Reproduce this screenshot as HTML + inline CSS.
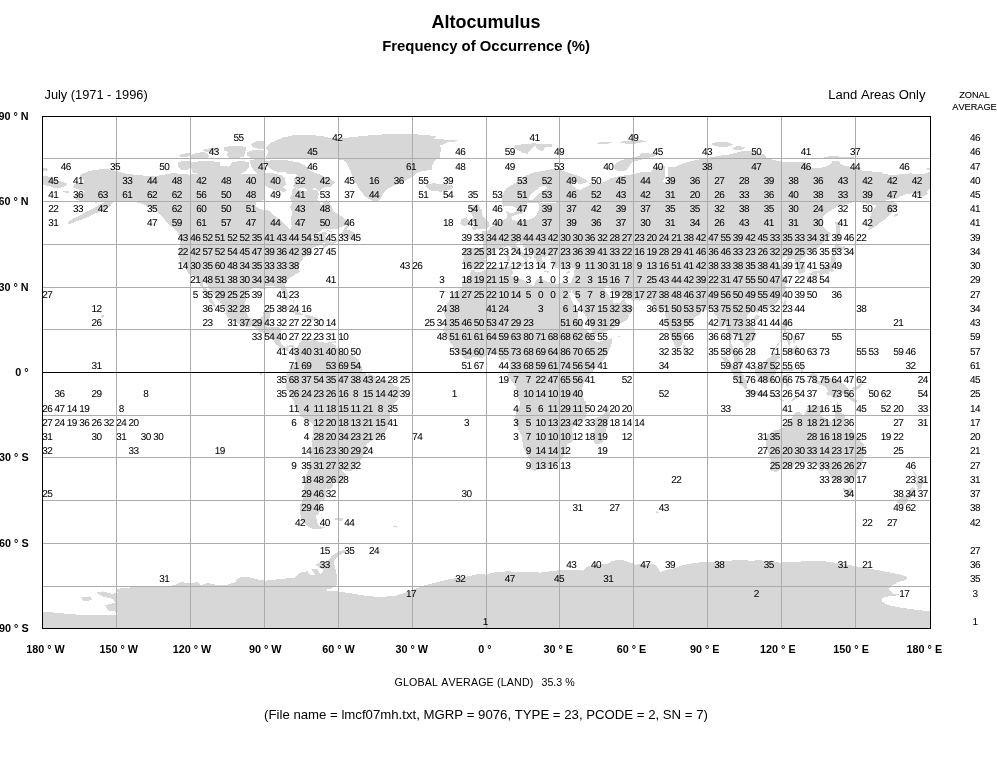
<!DOCTYPE html>
<html lang="en"><head><meta charset="utf-8"><title>Altocumulus - Frequency of Occurrence</title>
<style>
html,body{margin:0;padding:0;background:#fff;}
body{width:997px;height:760px;position:relative;overflow:hidden;font-family:"Liberation Sans",Arial,sans-serif;color:#000;font-kerning:none;}
#map{position:absolute;left:0;top:0;}
.t{position:absolute;white-space:nowrap;line-height:1;}
#nums{position:absolute;left:0;top:0;}
.n{position:absolute;width:30px;margin-left:-15px;text-align:center;font-size:10px;line-height:10px;height:10px;white-space:nowrap;letter-spacing:-0.55px;-webkit-text-stroke:0.05px #000;text-rendering:geometricPrecision;}
.ax{position:absolute;font-weight:bold;font-size:10.8px;line-height:12px;white-space:nowrap;}
</style></head><body>
<svg id="map" width="997" height="760" viewBox="0 0 997 760" shape-rendering="crispEdges">
<g fill="#d7d7d7" stroke="none">
<path d="M42.3 168.6 L45.8 167.9 L48.7 169.3 L46.7 170.6 L42.3 170.6Z"/>
<path d="M42.3 176.3 L47.5 176.3 L52.5 178.3 L57.5 180.8 L63.3 182.1 L68.0 184.1 L65.0 185.9 L61.3 187.6 L57.5 188.6 L53.3 187.6 L49.2 185.9 L45.0 185.3 L42.3 184.6Z"/>
<path d="M63.3 191.1 L69.1 191.4 L68.6 192.8 L63.6 192.4Z"/>
<path d="M80.8 174.3 L89.9 170.9 L99.9 169.4 L108.3 169.3 L115.9 170.9 L126.6 173.9 L136.6 174.9 L146.6 175.9 L156.5 175.9 L166.5 174.3 L173.2 172.9 L181.5 174.1 L189.8 174.6 L206.0 174.9 L206.0 236.0 L181.5 236.0 L176.5 231.5 L171.5 226.5 L166.5 221.9 L162.4 216.6 L156.5 210.7 L148.2 206.6 L141.6 203.6 L134.1 201.9 L126.6 201.2 L119.9 201.9 L113.3 201.2 L110.8 205.7 L105.8 209.1 L98.3 212.2 L89.9 216.1 L81.6 219.6 L74.1 222.4 L68.6 224.6 L67.6 222.2 L73.3 218.6 L80.8 214.9 L88.3 210.9 L95.8 207.1 L102.4 203.2 L105.8 201.6 L96.6 202.6 L88.3 201.9 L81.6 201.2 L75.8 199.9 L74.1 196.9 L75.8 194.1 L80.8 192.8 L85.0 191.6 L82.5 189.9 L77.5 189.3 L73.0 186.9 L74.1 184.6 L79.1 183.3 L84.1 183.3 L83.6 179.9 L80.0 177.4Z"/>
<path d="M265.8 158.3 L268.3 151.6 L265.8 147.5 L269.9 143.3 L276.6 140.0 L283.2 137.5 L293.2 135.3 L306.5 134.6 L321.5 136.0 L331.5 138.3 L338.0 139.6 L346.5 139.0 L356.0 138.3 L356.0 158.6 L339.8 159.9 L333.2 158.6 L289.9 158.6Z"/>
<path d="M179.1 155.1 L183.5 153.6 L189.8 153.2 L190.0 156.3 L184.8 157.0 L179.8 156.6Z"/>
<path d="M191.0 154.8 L197.3 152.8 L204.8 152.0 L208.8 155.1 L208.3 157.8 L198.6 158.1 L191.0 157.8Z"/>
<path d="M201.7 150.1 L207.3 148.6 L216.1 148.2 L218.9 150.1 L213.6 151.6 L206.1 152.0Z"/>
<path d="M223.6 147.6 L229.9 146.1 L241.2 145.7 L246.5 147.6 L245.6 150.7 L244.3 156.3 L238.7 157.8 L229.9 157.8 L226.2 155.1 L228.7 152.0 L224.3 150.7Z"/>
<path d="M251.2 143.8 L256.2 141.5 L263.8 141.0 L265.3 148.8 L258.7 149.1 L252.5 146.9Z"/>
<path d="M246.8 152.0 L253.7 150.1 L263.8 150.1 L265.3 157.8 L251.2 158.1 L247.5 155.7Z"/>
<path d="M177.9 162.6 L183.5 160.5 L189.8 161.1 L190.3 167.6 L187.5 170.1 L181.6 169.6 L178.3 167.0Z"/>
<path d="M190.8 162.4 L201.1 161.1 L213.6 161.4 L220.1 162.4 L220.1 166.1 L229.3 166.6 L231.8 162.4 L238.7 161.1 L248.5 161.7 L249.5 166.4 L246.8 170.4 L241.2 173.6 L231.2 174.3 L213.6 174.3 L201.1 174.0 L192.9 172.9 L190.8 167.6Z"/>
<path d="M250.0 160.1 L257.5 158.9 L263.8 159.5 L265.3 162.6 L265.3 175.2 L258.7 175.2 L253.7 170.1 L250.6 165.1Z"/>
<path d="M265.4 161.3 L273.6 160.0 L287.3 160.3 L298.6 162.5 L306.2 166.3 L311.2 171.3 L321.2 175.1 L331.2 179.5 L335.0 182.8 L331.2 186.4 L323.7 187.6 L318.7 191.4 L314.9 187.6 L308.7 190.1 L303.6 187.6 L297.4 188.9 L292.4 186.4 L294.9 182.6 L293.6 178.8 L297.4 175.1 L293.6 173.8 L288.6 174.4 L284.8 171.9 L278.6 172.6 L272.3 170.1 L267.3 166.3Z"/>
<path d="M264.8 172.6 L272.3 173.2 L281.1 175.1 L284.8 178.8 L286.1 183.9 L283.0 187.6 L287.3 190.1 L284.2 192.0 L274.8 190.1 L268.5 187.6 L264.8 185.1Z"/>
<path d="M293.6 187.6 L299.9 190.1 L308.7 192.6 L313.7 196.4 L311.2 200.2 L303.6 200.8 L296.1 199.5 L293.0 196.4 L291.7 191.4Z"/>
<path d="M190.0 174.1 L268.3 174.1 L269.9 176.6 L265.8 179.9 L264.3 184.1 L264.3 199.9 L256.6 201.9 L255.3 205.7 L259.9 209.1 L268.6 210.7 L277.2 217.7 L284.1 223.2 L288.2 227.4 L289.9 229.9 L291.6 226.5 L291.2 218.2 L292.4 211.6 L289.9 206.6 L292.4 202.4 L289.9 198.2 L292.4 193.2 L296.6 191.1 L304.9 191.9 L309.9 188.6 L316.5 190.3 L319.0 193.2 L317.4 199.9 L321.5 204.9 L324.9 200.7 L327.1 200.2 L331.1 205.6 L333.8 211.3 L337.5 214.1 L341.7 216.1 L345.4 219.3 L348.6 223.2 L347.9 224.7 L345.4 225.5 L340.5 227.5 L335.5 229.2 L328.1 228.9 L322.2 229.2 L320.2 231.5 L317.0 232.9 L314.3 234.9 L311.9 237.5 L310.4 238.9 L310.4 241.2 L190.0 236.0Z"/>
<path d="M340.0 138.6 L356.6 136.6 L373.3 135.0 L389.9 134.1 L411.6 134.1 L426.6 135.0 L436.6 136.3 L433.2 139.1 L446.6 139.6 L457.4 140.0 L454.9 141.6 L446.6 142.5 L439.9 145.8 L441.6 150.0 L439.9 153.6 L439.9 158.3 L434.9 159.9 L432.4 164.9 L431.6 169.9 L424.9 170.8 L418.3 171.9 L413.3 176.3 L406.6 179.9 L401.6 183.3 L394.9 184.9 L388.3 188.3 L383.6 193.2 L380.0 199.9 L375.8 201.9 L370.8 199.9 L365.0 196.6 L360.0 189.9 L355.8 183.3 L352.5 176.6 L350.0 169.9 L346.7 163.3 L343.3 159.9 L340.0 158.6Z"/>
<path d="M425.7 184.6 L433.2 183.3 L443.2 184.1 L451.6 184.9 L453.2 187.4 L449.9 189.9 L441.6 191.6 L433.2 191.3 L428.2 189.1 L425.7 186.6Z"/>
<path d="M461.5 219.1 L466.5 217.4 L469.0 220.7 L468.2 224.9 L464.0 226.2 L460.2 224.1Z"/>
<path d="M473.2 205.2 L478.2 204.1 L479.9 208.2 L482.4 209.9 L481.5 214.1 L484.9 218.2 L488.2 221.6 L489.8 225.7 L486.5 228.5 L479.9 229.0 L473.2 229.9 L471.5 227.4 L476.5 225.7 L473.2 223.2 L471.5 219.9 L473.2 216.6 L470.7 213.2 L471.5 209.1Z"/>
<path d="M513.3 145.8 L523.3 144.1 L533.3 143.3 L543.3 144.1 L552.4 144.1 L551.6 146.6 L544.9 147.5 L543.3 150.8 L538.3 150.0 L535.0 145.8 L531.6 149.1 L527.5 153.6 L523.3 153.3 L518.3 150.0 L514.1 148.0Z"/>
<path d="M595.7 142.8 L604.9 142.0 L612.4 142.5 L606.5 144.1 L598.2 143.8Z"/>
<path d="M618.2 142.0 L628.2 140.8 L639.8 140.3 L646.5 140.8 L639.8 143.0 L631.5 144.1 L623.2 143.3Z"/>
<path d="M613.5 165.8 L618.2 161.9 L624.0 159.3 L634.0 157.1 L644.8 154.6 L656.0 152.6 L656.0 156.0 L646.5 158.3 L637.4 160.6 L631.5 162.9 L629.0 166.6 L626.5 170.3 L619.0 171.3 L614.5 169.1Z"/>
<path d="M490.0 236.0 L490.0 229.0 L495.0 224.9 L498.3 221.2 L503.3 219.9 L506.6 218.2 L506.6 213.2 L505.8 209.1 L508.3 206.2 L503.3 206.6 L501.7 200.7 L503.3 193.2 L506.6 188.3 L512.5 184.6 L519.1 180.3 L525.8 175.8 L532.5 172.9 L539.9 171.3 L546.6 170.3 L553.3 168.6 L559.9 169.6 L565.8 171.9 L571.6 173.6 L578.2 175.8 L584.1 178.3 L588.2 181.6 L591.6 184.1 L598.2 184.1 L604.9 181.6 L610.7 178.3 L617.4 176.6 L624.9 175.4 L633.2 174.1 L640.7 172.4 L649.8 171.6 L656.0 171.9 L656.0 236.0Z"/>
<path d="M640.0 141.0 L645.8 140.5 L646.7 142.0 L640.0 142.6Z"/>
<path d="M640.0 153.6 L646.7 153.0 L652.0 154.0 L648.3 155.8 L640.0 157.0Z"/>
<path d="M710.8 144.1 L716.6 142.0 L724.9 141.6 L733.2 144.1 L729.9 146.3 L723.2 147.0 L716.6 146.3Z"/>
<path d="M732.4 148.0 L738.2 145.8 L744.9 147.5 L741.6 150.0 L734.9 150.0Z"/>
<path d="M640.0 175.8 L647.5 175.3 L650.3 172.4 L653.0 169.1 L656.6 167.4 L662.5 165.8 L665.0 166.6 L665.0 176.6 L662.5 182.4 L667.5 182.9 L668.0 176.6 L668.3 166.6 L673.3 167.4 L680.0 164.9 L685.0 162.9 L689.9 161.6 L696.6 159.9 L703.3 158.6 L709.9 157.5 L718.3 155.8 L726.6 155.0 L733.2 153.6 L739.9 151.6 L746.6 150.8 L756.5 152.5 L763.2 154.1 L766.5 157.5 L773.2 159.9 L781.5 161.6 L789.8 161.9 L806.0 162.4 L806.0 236.0 L640.0 236.0Z"/>
<path d="M824.1 157.5 L830.0 155.8 L839.9 156.6 L846.6 157.5 L853.3 157.0 L854.1 158.6 L839.9 159.1 L826.6 159.1Z"/>
<path d="M926.5 168.6 L930.0 167.9 L930.0 170.3 L926.9 170.3Z"/>
<path d="M790.0 162.4 L800.0 164.1 L808.3 166.6 L815.0 168.3 L823.3 167.4 L830.0 164.9 L832.5 161.3 L839.1 160.8 L840.8 164.1 L844.9 165.8 L853.3 167.4 L863.3 170.8 L873.2 171.6 L881.6 171.9 L883.2 174.1 L893.2 174.9 L904.9 174.1 L909.9 173.3 L916.5 174.1 L923.2 174.1 L928.2 172.4 L930.0 171.6 L930.0 188.3 L926.5 191.6 L928.2 194.1 L923.2 196.6 L918.2 194.9 L913.2 193.2 L906.5 194.1 L899.9 196.6 L896.6 199.1 L889.9 199.1 L885.7 200.7 L889.9 201.6 L896.6 203.2 L898.2 206.6 L894.9 209.9 L889.9 214.1 L886.6 218.2 L881.6 221.6 L876.6 225.7 L871.6 229.0 L868.3 230.2 L869.6 224.9 L869.9 218.2 L871.6 213.2 L874.1 208.2 L876.6 205.7 L869.9 204.1 L863.3 203.2 L859.9 201.2 L855.9 201.6 L849.9 203.2 L843.3 204.9 L836.6 207.4 L831.6 209.9 L826.6 213.2 L823.3 216.6 L822.0 221.6 L823.3 226.5 L827.5 230.7 L830.8 236.0 L790.0 236.0Z"/>
<path d="M835.3 222.4 L838.3 221.6 L839.9 226.5 L839.9 236.0 L836.6 236.0 L836.3 229.9Z"/>
<path d="M893.6 214.6 L897.9 214.2 L898.2 216.2 L894.1 216.6Z"/>
<path d="M181.4 230.3 L178.4 234.3 L180.1 240.6 L179.9 246.8 L178.9 250.3 L179.1 257.1 L180.6 261.1 L183.8 264.5 L185.3 267.9 L188.5 273.6 L193.9 275.6 L196.9 279.0 L198.4 281.5 L200.4 285.5 L202.8 288.9 L202.1 292.9 L204.3 294.9 L206.0 296.1 L209.0 299.2 L209.2 301.7 L211.0 302.9 L212.4 304.9 L214.9 306.9 L216.1 305.7 L213.9 302.9 L212.9 300.9 L211.5 298.0 L209.7 295.2 L207.8 290.9 L205.8 288.4 L203.6 285.8 L202.8 283.8 L202.8 281.5 L206.0 283.0 L208.0 286.1 L209.2 288.9 L212.4 292.6 L215.9 296.1 L216.4 299.2 L219.6 301.5 L223.5 306.0 L225.5 309.4 L226.3 310.8 L225.3 314.0 L228.7 318.0 L231.2 319.9 L233.9 321.1 L239.6 324.1 L244.3 326.2 L248.0 327.5 L251.7 325.9 L254.1 326.5 L258.3 330.8 L260.3 332.2 L264.0 333.0 L267.7 334.5 L269.7 335.0 L271.4 336.7 L272.6 338.4 L274.4 340.4 L274.6 343.6 L276.3 344.4 L277.3 345.0 L279.8 347.3 L280.0 348.1 L281.5 349.1 L283.7 348.7 L285.7 350.4 L287.4 351.2 L288.7 350.7 L287.9 348.7 L289.9 346.7 L292.4 347.8 L293.1 350.7 L294.8 351.5 L296.3 349.5 L296.3 348.1 L295.1 347.3 L293.6 345.5 L288.9 345.3 L286.2 347.0 L284.2 346.4 L283.0 345.3 L281.3 343.6 L279.8 340.7 L279.5 337.9 L280.0 335.0 L280.5 332.2 L280.8 329.3 L278.8 327.1 L276.3 326.8 L273.9 327.1 L271.4 327.1 L268.9 327.3 L267.5 327.3 L266.7 326.8 L268.4 322.2 L268.7 319.7 L269.9 316.5 L270.4 314.5 L271.9 311.7 L271.2 310.6 L267.7 310.8 L264.7 311.4 L263.0 312.3 L262.8 315.7 L261.5 317.4 L259.6 319.1 L257.3 319.1 L255.4 319.7 L253.1 320.5 L251.2 318.8 L249.0 317.4 L247.7 315.1 L246.2 312.6 L244.8 308.9 L245.0 305.2 L245.5 300.9 L246.2 298.0 L245.7 292.9 L248.2 291.2 L252.2 288.7 L254.6 287.5 L257.8 287.8 L260.8 288.7 L263.3 289.2 L265.7 289.5 L265.2 286.4 L267.7 285.8 L270.9 285.5 L273.9 285.5 L275.3 287.5 L278.8 286.7 L280.3 288.1 L281.8 290.1 L282.0 292.4 L283.0 295.8 L284.2 297.8 L286.0 300.3 L287.7 300.3 L288.2 298.6 L288.7 295.8 L287.4 291.8 L287.2 290.9 L285.7 287.8 L285.2 285.8 L285.7 282.4 L286.2 281.0 L288.9 278.7 L291.1 276.7 L293.6 275.6 L296.1 273.6 L297.3 273.6 L299.8 271.9 L299.0 268.2 L298.5 266.8 L299.8 263.9 L300.8 261.6 L302.5 259.6 L303.5 256.8 L308.4 255.4 L313.3 253.4 L311.1 251.4 L311.6 249.4 L312.8 247.7 L315.8 246.8 L320.7 244.6 L323.2 243.4 L326.2 242.3 L323.0 245.7 L323.0 247.4 L324.2 248.3 L329.1 245.1 L334.3 243.4 L338.0 241.2 L337.0 238.3 L334.3 241.7 L330.6 241.7 L328.1 240.6 L326.2 238.3 L324.4 236.0 L327.4 233.2 L325.7 232.1 L322.0 232.3 L317.0 234.6 L313.3 237.7 L310.4 238.9 L301.0 230.3Z"/>
<path d="M339.7 236.6 L341.9 234.0 L340.7 233.8 L343.2 230.9 L344.7 227.8 L345.9 226.1 L349.1 225.2 L348.1 227.5 L346.6 229.5 L349.1 230.1 L351.6 231.2 L354.0 232.1 L355.0 233.5 L354.0 235.5 L356.0 236.6 L355.0 239.4 L352.8 238.9 L352.3 237.5 L349.6 238.6 L348.1 237.7 L345.9 236.6 L342.9 236.6Z"/>
<path d="M326.9 230.1 L331.8 231.2 L333.8 232.3 L330.6 232.1 L327.1 230.9Z"/>
<path d="M327.4 238.6 L330.6 239.7 L333.1 239.7 L331.8 241.2 L328.6 240.3Z"/>
<path d="M276.6 309.7 L278.8 307.1 L282.7 306.0 L286.2 306.3 L288.7 306.9 L291.1 308.3 L294.1 310.0 L296.1 310.6 L299.3 312.3 L303.0 314.5 L301.0 315.4 L294.3 315.5 L295.8 313.7 L293.6 313.1 L291.9 310.8 L288.7 310.3 L285.7 309.1 L283.7 308.3 L281.3 309.1 L278.8 310.0Z"/>
<path d="M304.9 315.4 L306.4 315.4 L309.1 315.4 L313.3 316.0 L313.6 317.1 L315.3 317.1 L317.3 319.1 L316.8 320.2 L313.3 319.9 L311.6 319.9 L309.9 321.9 L308.9 320.8 L307.4 320.2 L304.7 320.4 L302.5 319.9 L302.5 319.0 L305.9 319.4 L307.4 319.1 L306.4 317.4 L304.9 316.0Z"/>
<path d="M292.6 319.8 L296.1 319.4 L298.0 320.8 L296.1 321.4 L293.1 320.8Z"/>
<path d="M320.2 319.4 L324.2 319.7 L323.9 320.8 L320.2 320.9Z"/>
<path d="M292.9 300.3 L294.1 300.6 L294.6 303.4 L293.1 302.9Z"/>
<path d="M294.1 295.5 L296.1 296.3 L296.1 298.0 L295.3 297.8Z"/>
<path d="M333.3 341.6 L335.8 341.3 L335.5 343.3 L333.3 343.3Z"/>
<path d="M294.8 351.5 L296.3 349.5 L296.3 348.1 L297.8 346.4 L299.8 342.4 L301.5 340.7 L303.0 339.9 L305.9 339.6 L309.1 336.7 L310.6 337.6 L310.1 338.4 L308.6 339.6 L309.4 341.0 L310.9 340.7 L312.1 339.9 L313.3 337.3 L314.1 339.3 L317.5 341.3 L318.3 342.1 L321.0 341.8 L323.2 341.8 L325.7 343.3 L326.4 343.3 L328.1 342.1 L331.8 341.6 L333.3 341.6 L332.3 343.6 L335.5 345.0 L336.0 347.5 L338.5 348.4 L342.4 352.7 L345.4 354.9 L349.8 355.2 L352.8 355.5 L357.0 358.1 L358.7 359.5 L359.0 360.1 L360.2 363.5 L361.9 366.9 L362.7 369.4 L361.4 371.1 L362.7 372.0 L366.4 372.6 L366.6 374.8 L366.4 376.0 L368.8 373.7 L372.5 375.1 L375.0 376.3 L376.7 379.1 L378.9 378.8 L382.4 380.0 L384.9 380.2 L387.3 380.1 L391.0 382.5 L394.0 385.4 L397.2 386.5 L398.9 387.6 L399.2 388.5 L400.2 392.2 L399.9 395.0 L397.9 399.6 L396.2 401.9 L394.6 403.0 L393.5 404.7 L391.0 409.0 L389.8 411.8 L389.8 414.1 L390.0 417.5 L389.6 420.4 L389.3 422.3 L388.1 424.9 L387.8 427.8 L386.6 429.7 L384.9 433.2 L384.9 434.6 L382.4 437.4 L379.4 437.4 L376.2 438.0 L374.0 439.7 L371.8 440.3 L367.8 443.1 L366.4 444.8 L366.1 447.4 L366.4 450.5 L365.6 453.4 L363.4 455.3 L361.9 458.2 L359.7 461.6 L357.5 463.6 L354.3 467.9 L352.8 470.1 L350.6 471.4 L347.4 471.3 L343.4 470.1 L341.9 468.7 L341.9 470.4 L344.9 473.0 L346.1 475.3 L344.2 480.1 L340.5 482.1 L335.5 482.9 L332.6 482.6 L332.8 485.8 L332.3 488.1 L328.6 489.2 L325.7 488.1 L325.4 490.0 L326.2 492.0 L329.1 492.9 L326.9 494.0 L325.7 495.2 L324.9 498.6 L324.2 500.0 L322.0 500.6 L319.5 502.8 L320.0 504.6 L321.5 505.7 L323.7 506.3 L323.4 507.8 L322.0 509.7 L319.3 512.2 L319.0 514.2 L316.0 515.1 L315.8 517.1 L317.3 520.8 L316.8 521.6 L317.8 523.6 L319.3 525.6 L322.0 527.0 L325.2 527.4 L322.0 528.6 L318.3 529.3 L314.6 529.3 L310.9 528.2 L308.4 526.5 L305.2 523.6 L302.2 521.3 L301.0 518.5 L300.3 514.2 L299.8 510.8 L299.8 505.7 L299.8 505.1 L302.2 502.3 L303.5 498.6 L303.0 495.2 L303.5 490.9 L304.0 487.2 L304.9 484.4 L304.5 480.1 L304.7 477.8 L305.7 476.7 L306.9 473.0 L308.4 470.1 L309.4 465.9 L309.6 461.6 L309.6 457.3 L310.1 454.5 L309.6 451.6 L311.1 448.8 L311.9 446.0 L312.1 443.1 L312.3 439.1 L312.8 434.6 L313.0 429.5 L312.6 424.6 L310.1 422.1 L307.2 420.4 L303.5 418.1 L300.5 415.8 L298.0 412.4 L298.0 411.0 L295.8 406.1 L294.3 403.3 L293.1 400.4 L292.1 397.9 L290.4 394.8 L288.9 391.9 L286.4 389.1 L286.0 389.1 L285.5 386.2 L285.5 385.4 L286.4 383.1 L287.9 381.7 L288.9 379.1 L287.9 379.7 L286.2 378.3 L286.9 374.8 L286.4 374.6 L288.4 372.0 L288.7 369.7 L291.1 368.6 L291.6 367.7 L291.6 366.9 L293.6 364.9 L294.8 364.6 L295.8 360.9 L294.8 359.2 L295.3 356.4 L294.8 353.2 L293.8 351.5Z"/>
<path d="M334.8 518.2 L339.2 517.9 L343.4 518.5 L341.7 520.5 L338.0 520.5 L335.5 519.9Z"/>
<path d="M392.3 525.6 L397.2 526.5 L397.2 527.9 L393.5 526.7Z"/>
<path d="M497.8 221.2 L496.4 224.1 L494.6 225.8 L492.2 226.6 L490.4 227.2 L489.9 229.2 L488.5 230.1 L486.2 231.2 L483.0 231.5 L481.3 230.6 L482.1 233.5 L481.1 233.8 L477.4 233.2 L474.2 234.3 L475.4 236.0 L478.6 236.6 L480.6 237.7 L483.0 240.6 L483.3 242.6 L482.8 245.4 L482.1 248.6 L478.6 248.3 L476.6 248.3 L472.4 248.0 L468.7 248.0 L466.3 247.7 L463.1 249.7 L464.0 252.5 L464.5 254.8 L464.0 258.2 L462.8 259.9 L462.6 261.9 L464.3 262.8 L464.3 264.2 L463.8 266.8 L466.5 266.8 L468.7 266.2 L470.2 267.3 L470.5 268.2 L472.2 269.6 L472.9 269.3 L475.1 267.6 L478.6 267.6 L480.6 267.6 L482.1 265.6 L483.8 265.0 L484.8 263.1 L486.5 261.9 L485.3 259.6 L486.7 257.4 L488.2 256.2 L491.4 254.2 L493.9 252.5 L494.1 251.7 L493.4 249.7 L494.6 248.8 L497.1 248.6 L499.3 248.8 L500.8 249.4 L503.0 248.3 L504.0 247.7 L508.0 245.7 L510.7 246.8 L511.4 248.3 L513.1 251.1 L516.1 253.1 L518.1 254.8 L521.0 255.9 L523.0 257.7 L524.7 259.6 L525.5 261.9 L524.7 263.9 L526.7 263.1 L528.2 261.1 L526.7 259.1 L527.9 257.1 L530.4 258.5 L531.4 258.8 L531.6 257.4 L530.4 256.2 L527.7 254.8 L526.0 252.8 L523.5 252.5 L521.0 251.1 L519.3 248.0 L516.8 246.3 L516.3 244.0 L516.6 242.9 L519.8 242.0 L519.5 244.3 L521.8 243.1 L523.0 245.4 L523.5 246.6 L526.5 248.3 L530.6 250.8 L532.9 252.5 L533.9 253.7 L533.9 254.5 L533.9 257.1 L535.3 259.1 L537.1 261.4 L538.0 263.1 L538.5 264.8 L539.3 267.0 L541.5 268.5 L543.0 268.2 L542.5 265.9 L543.7 265.3 L542.7 263.9 L544.5 264.2 L545.2 264.8 L545.2 263.1 L542.7 261.1 L542.7 260.2 L541.7 258.2 L542.5 256.8 L544.5 258.2 L545.2 257.1 L546.2 255.7 L549.9 255.9 L550.6 256.8 L550.6 257.9 L550.4 259.6 L552.1 261.1 L552.4 262.8 L550.9 263.1 L553.1 264.8 L553.6 266.8 L555.6 267.6 L557.8 267.9 L559.0 269.0 L561.5 267.3 L564.9 268.2 L566.9 269.6 L569.9 268.7 L571.3 267.3 L573.8 267.9 L575.3 267.9 L574.6 269.9 L574.3 271.0 L574.6 273.6 L573.6 275.6 L572.3 278.7 L571.8 280.7 L570.6 282.7 L569.4 283.5 L565.7 283.0 L566.2 287.0 L567.4 290.4 L568.9 292.4 L570.4 293.2 L571.1 291.2 L572.3 288.1 L572.1 292.1 L573.6 293.8 L576.0 298.0 L577.8 301.5 L579.7 303.7 L582.0 307.4 L582.4 310.8 L583.9 313.7 L586.4 316.5 L588.1 319.9 L590.1 323.1 L591.3 325.9 L591.6 328.8 L592.6 332.5 L593.1 335.9 L597.0 335.6 L600.7 333.9 L604.4 332.2 L607.1 330.8 L610.6 329.0 L614.8 327.6 L614.8 325.9 L619.2 323.6 L622.4 322.2 L624.9 321.1 L628.3 318.2 L628.6 316.0 L628.3 314.0 L630.5 314.0 L631.5 311.1 L633.5 308.0 L630.5 304.9 L627.1 303.7 L625.6 302.3 L624.9 299.2 L625.1 297.2 L624.4 298.0 L622.4 300.0 L620.2 302.6 L615.7 303.2 L613.3 302.9 L612.3 302.0 L613.3 300.3 L613.0 297.8 L611.8 298.0 L611.3 299.5 L611.3 301.5 L609.8 299.2 L609.3 296.1 L607.4 293.8 L605.9 291.5 L604.4 288.4 L605.6 286.7 L606.6 285.8 L608.3 286.4 L609.8 287.0 L611.3 289.5 L613.0 292.6 L615.7 294.1 L617.7 295.8 L620.7 296.3 L623.1 295.2 L624.9 294.6 L626.6 295.8 L627.3 298.6 L628.6 298.9 L631.5 299.8 L635.5 300.0 L639.7 300.6 L643.9 300.0 L647.6 299.8 L650.0 299.8 L651.3 301.5 L652.5 304.0 L654.2 304.9 L656.0 306.9 L656.2 308.9 L658.2 311.4 L659.9 312.8 L661.1 313.1 L663.6 311.7 L664.3 309.7 L665.1 308.9 L665.6 311.7 L665.3 312.3 L665.6 318.0 L666.6 322.2 L667.1 325.9 L668.0 328.2 L669.5 331.3 L670.5 335.3 L672.2 339.3 L674.0 343.6 L674.9 346.7 L677.2 349.0 L678.9 347.0 L680.9 345.5 L682.8 342.7 L683.1 339.3 L684.1 334.7 L683.6 330.8 L683.8 327.9 L686.0 327.1 L689.0 324.8 L691.5 321.7 L694.4 318.5 L696.9 316.0 L699.4 315.1 L700.6 312.3 L701.8 310.8 L704.3 310.6 L706.8 310.0 L709.2 309.4 L710.5 308.0 L712.4 308.6 L713.4 312.3 L714.9 314.5 L716.6 316.2 L718.4 319.4 L719.1 322.8 L718.6 326.5 L721.1 327.1 L723.3 325.6 L725.3 323.9 L726.7 325.1 L727.0 329.3 L728.2 332.2 L728.2 333.6 L729.2 337.9 L729.2 342.1 L728.5 346.4 L728.5 349.5 L730.2 351.2 L731.9 353.2 L733.4 356.1 L734.4 360.6 L735.9 363.8 L738.1 365.7 L741.1 368.0 L742.5 368.3 L743.0 366.0 L741.3 364.0 L741.1 361.2 L740.3 356.9 L738.1 354.4 L736.4 352.4 L734.9 351.2 L734.1 351.5 L732.9 348.1 L732.4 345.5 L730.7 342.4 L731.7 339.6 L732.7 337.3 L732.4 334.2 L733.9 333.6 L735.1 335.9 L738.1 337.3 L739.8 338.7 L740.3 341.0 L743.3 342.1 L744.5 347.5 L746.0 347.0 L748.7 345.0 L749.4 342.7 L750.2 342.4 L752.4 341.6 L754.9 339.3 L755.4 337.9 L755.9 335.0 L755.4 332.2 L754.6 328.5 L752.9 326.2 L750.2 323.6 L748.7 321.4 L747.0 318.8 L747.2 315.4 L749.2 313.1 L751.9 311.1 L753.4 310.6 L756.1 310.8 L758.1 314.3 L758.6 311.7 L761.8 310.6 L764.7 309.4 L767.7 308.6 L770.9 307.4 L773.9 305.7 L776.6 303.4 L777.3 302.3 L780.3 299.5 L781.0 298.0 L782.7 295.2 L784.2 292.4 L786.2 289.5 L786.7 287.0 L784.5 285.2 L786.7 283.3 L785.7 281.0 L784.0 278.1 L782.0 274.4 L780.3 273.0 L781.5 270.7 L783.0 269.3 L788.2 267.0 L787.2 265.3 L784.2 264.5 L780.0 266.2 L779.3 264.5 L776.6 262.2 L776.6 260.8 L779.5 259.6 L783.2 257.4 L786.4 255.7 L787.4 257.1 L785.2 260.5 L785.9 261.4 L789.4 259.4 L792.6 258.5 L794.8 259.6 L795.1 261.9 L793.8 263.9 L796.3 264.8 L798.3 265.0 L797.8 268.2 L798.0 271.0 L797.5 273.0 L800.0 273.9 L803.0 273.0 L804.4 272.2 L805.4 269.6 L805.2 266.8 L803.2 263.3 L800.5 260.5 L801.7 258.2 L805.9 255.9 L806.2 254.0 L808.1 251.7 L811.4 249.4 L814.6 250.3 L820.2 245.7 L823.7 242.0 L827.6 237.5 L831.6 233.2 L826.4 230.9 L500.8 230.9 L500.8 222.7Z"/>
<path d="M683.1 344.4 L684.1 345.0 L686.3 347.5 L687.8 350.7 L687.5 352.9 L685.8 354.4 L683.8 354.9 L683.1 352.7 L682.8 349.2 L683.1 346.4Z"/>
<path d="M754.1 317.1 L756.1 315.1 L758.8 314.8 L759.8 316.2 L758.6 318.5 L756.3 320.2 L754.1 319.1Z"/>
<path d="M785.7 300.0 L786.7 301.5 L785.7 305.2 L784.2 309.4 L782.7 307.7 L782.2 305.2 L784.0 302.0 L784.5 300.6Z"/>
<path d="M808.9 275.6 L810.9 276.4 L811.6 278.1 L810.4 281.5 L809.1 283.3 L808.1 283.3 L807.2 282.4 L807.2 279.6 L805.9 278.1 L806.2 276.7 L807.7 276.1Z"/>
<path d="M812.8 275.3 L816.5 274.2 L818.3 275.3 L817.0 277.0 L815.3 277.0 L814.1 278.7 L812.6 277.3Z"/>
<path d="M808.9 275.3 L810.1 273.9 L812.8 271.3 L814.8 270.7 L817.8 270.5 L820.2 270.7 L821.5 269.6 L823.2 266.8 L824.7 265.3 L824.2 267.0 L827.1 266.2 L828.6 264.2 L829.9 263.1 L830.8 261.1 L831.3 258.5 L831.1 256.5 L832.1 254.8 L834.8 254.2 L835.0 256.8 L836.3 259.4 L835.0 262.8 L833.8 263.3 L833.8 266.8 L832.8 269.0 L833.6 270.5 L832.3 271.9 L831.1 272.7 L830.8 270.7 L829.4 271.9 L828.6 273.6 L826.9 273.6 L824.4 273.6 L823.7 274.2 L822.2 275.6 L821.0 277.0 L819.2 275.3 L819.7 273.6 L817.8 273.3 L815.3 274.2 L812.8 274.7 L810.4 275.3 L809.1 275.4Z"/>
<path d="M832.1 254.0 L831.3 251.7 L832.1 249.1 L834.5 248.8 L835.5 245.4 L835.5 242.6 L838.5 245.1 L841.9 246.8 L844.4 246.0 L845.1 248.8 L842.2 249.7 L839.5 252.5 L839.2 252.5 L836.3 251.1 L833.8 251.7 L833.1 251.1 L834.0 253.1 L832.3 254.2Z"/>
<path d="M836.0 241.4 L836.5 238.3 L836.3 234.0 L838.2 234.0 L839.2 236.9 L840.0 238.9 L839.7 240.6 L837.7 239.7Z"/>
<path d="M783.5 319.4 L787.4 319.4 L787.7 323.6 L786.9 326.5 L785.9 329.3 L786.2 331.6 L788.2 331.6 L790.1 332.7 L792.1 336.2 L790.9 335.3 L788.4 333.6 L786.4 332.5 L784.5 333.0 L783.5 331.6 L784.2 330.5 L782.7 329.9 L781.8 327.9 L782.7 325.9 L783.0 322.2Z"/>
<path d="M787.2 352.4 L787.2 349.8 L789.4 347.8 L791.4 349.2 L793.6 347.5 L795.6 346.1 L795.6 344.1 L797.5 347.0 L798.3 351.2 L797.3 354.1 L795.3 356.1 L794.8 354.4 L792.4 354.4 L791.9 352.1 L790.4 351.0Z"/>
<path d="M792.6 336.4 L795.1 336.4 L796.1 340.1 L794.8 343.0 L793.6 343.0 L792.9 339.9Z"/>
<path d="M786.9 338.4 L789.6 339.3 L790.6 342.1 L789.9 346.1 L788.2 345.0 L787.9 342.1 L786.7 341.8Z"/>
<path d="M775.1 348.1 L778.3 345.0 L780.8 341.3 L781.0 339.9 L779.0 342.7 L776.1 346.1Z"/>
<path d="M756.3 366.3 L758.1 367.2 L759.8 367.4 L760.5 364.9 L764.7 362.9 L767.2 359.2 L770.9 356.6 L772.6 354.1 L774.1 352.1 L776.1 353.5 L777.1 355.5 L780.0 357.2 L778.1 358.9 L776.6 360.1 L776.1 362.6 L777.1 365.7 L779.5 369.2 L777.1 369.7 L775.8 372.0 L775.8 374.8 L774.1 375.7 L772.9 379.1 L773.1 382.2 L769.7 383.4 L768.7 382.0 L764.7 381.4 L761.5 380.8 L758.1 380.2 L757.3 376.3 L755.4 373.7 L755.1 371.1 L754.9 369.2Z"/>
<path d="M721.1 356.1 L724.0 357.2 L726.5 357.2 L728.5 360.1 L730.2 362.0 L732.7 364.9 L734.6 366.3 L736.9 367.2 L738.8 369.2 L741.3 370.6 L742.0 372.9 L743.5 375.1 L744.0 377.7 L747.5 380.5 L747.5 383.4 L747.0 388.5 L744.3 388.5 L742.5 386.2 L738.8 383.4 L736.4 380.0 L733.9 376.3 L733.4 374.3 L730.7 370.6 L729.5 367.2 L727.0 364.9 L724.5 361.5 L721.6 358.3Z"/>
<path d="M745.5 391.3 L747.5 388.8 L749.9 389.1 L753.6 390.5 L758.6 391.6 L759.8 390.2 L763.5 391.6 L768.2 393.9 L768.4 396.7 L764.7 395.6 L759.8 395.3 L754.9 393.9 L751.2 393.9 L748.5 392.8Z"/>
<path d="M768.4 395.0 L772.1 395.3 L774.6 395.6 L779.5 395.6 L780.0 397.0 L774.6 397.6 L770.9 397.0Z"/>
<path d="M781.8 395.9 L784.5 395.9 L789.2 395.3 L788.9 397.0 L784.5 397.3 L781.8 397.0Z"/>
<path d="M779.5 399.0 L784.0 400.2 L782.5 401.3 L779.8 399.9Z"/>
<path d="M790.6 401.3 L793.1 398.2 L795.6 396.5 L799.8 395.9 L798.0 397.6 L794.3 399.9 L791.9 401.3Z"/>
<path d="M782.0 368.3 L784.5 368.3 L788.2 369.2 L791.9 368.6 L794.8 367.4 L793.1 370.6 L790.6 371.1 L786.9 370.6 L784.0 370.6 L782.2 372.0 L782.2 374.6 L785.2 374.6 L788.2 374.3 L790.4 374.3 L788.2 376.3 L786.2 377.4 L787.4 380.5 L788.9 383.9 L788.2 387.1 L786.4 385.7 L785.7 383.4 L784.5 380.0 L784.0 382.0 L783.0 387.6 L780.8 387.6 L780.8 383.4 L779.0 380.0 L780.3 376.3 L781.5 372.6 L781.5 369.7Z"/>
<path d="M800.7 366.3 L803.2 367.7 L803.5 371.1 L801.5 374.0 L800.5 369.7Z"/>
<path d="M796.8 381.1 L799.8 381.4 L799.3 382.8 L797.0 382.5Z"/>
<path d="M801.7 380.5 L805.4 380.0 L808.6 381.7 L805.4 382.0 L801.7 381.7Z"/>
<path d="M809.1 374.3 L812.8 373.1 L816.5 374.3 L817.0 376.8 L818.5 381.1 L820.2 381.4 L822.7 378.3 L825.9 376.3 L828.9 377.7 L833.8 379.4 L838.7 381.7 L842.4 382.8 L845.6 386.2 L848.6 388.8 L850.6 391.1 L848.6 391.3 L849.3 393.3 L851.8 396.2 L854.8 399.0 L857.2 401.0 L856.0 402.2 L851.1 401.0 L849.1 399.0 L846.1 396.2 L843.2 393.9 L840.0 395.3 L838.7 398.2 L836.3 398.2 L833.8 397.9 L830.8 395.3 L827.6 395.6 L826.4 393.3 L828.4 391.3 L826.4 387.6 L822.7 385.4 L819.0 384.5 L815.3 383.1 L813.6 383.4 L811.6 380.2 L814.1 379.1 L815.8 378.5 L812.8 378.3 L809.9 376.0Z"/>
<path d="M851.8 387.9 L856.0 386.8 L859.7 384.2 L861.7 384.2 L860.9 387.1 L857.2 389.6 L853.5 389.6Z"/>
<path d="M858.0 379.4 L860.9 381.4 L863.4 384.8 L862.7 385.1 L859.7 381.4Z"/>
<path d="M837.5 402.4 L840.0 407.6 L840.5 412.7 L844.4 414.7 L844.4 416.1 L845.6 420.1 L846.9 425.5 L848.1 426.9 L851.8 429.5 L854.0 432.3 L857.7 436.0 L858.0 438.8 L860.4 441.1 L863.6 444.5 L863.6 448.8 L864.9 453.6 L863.4 458.8 L862.2 464.2 L859.0 468.4 L857.7 472.1 L856.0 475.8 L855.8 478.7 L851.1 479.8 L848.6 481.5 L847.1 483.2 L843.7 481.2 L843.4 480.1 L840.0 482.4 L835.0 480.9 L832.6 480.1 L830.6 477.2 L830.1 473.8 L827.9 473.3 L827.6 471.3 L826.4 469.3 L825.9 465.9 L825.9 464.7 L824.7 468.1 L822.7 471.3 L820.7 471.3 L819.5 470.1 L818.3 466.4 L816.5 465.0 L815.3 463.3 L811.6 463.0 L809.1 461.6 L804.2 462.2 L800.5 463.6 L796.8 463.9 L793.1 465.9 L790.6 468.4 L786.7 468.4 L782.0 468.7 L777.1 471.6 L776.8 471.8 L772.1 471.3 L769.9 469.8 L769.7 467.3 L771.4 466.7 L771.4 463.0 L770.4 458.8 L769.4 455.3 L768.7 453.9 L767.4 450.2 L765.5 446.5 L766.2 442.5 L765.7 440.3 L767.4 434.0 L768.7 434.3 L770.9 432.9 L773.9 430.6 L777.1 429.7 L778.5 429.7 L782.0 428.6 L785.7 425.5 L787.4 423.2 L787.7 420.4 L790.6 421.2 L790.9 418.4 L793.1 416.1 L795.6 412.7 L798.8 411.5 L801.2 413.2 L802.5 414.7 L804.2 414.4 L805.9 411.3 L807.4 408.4 L808.6 407.3 L810.4 406.7 L813.1 404.7 L815.3 405.6 L819.0 406.4 L823.4 406.7 L823.7 407.0 L822.7 410.4 L821.2 413.2 L820.2 414.7 L822.7 416.9 L825.9 418.4 L828.9 420.1 L831.3 422.1 L833.6 420.4 L834.8 417.5 L835.3 413.2 L835.3 409.0 L836.0 405.6 L836.8 403.0Z"/>
<path d="M842.9 487.8 L846.1 488.9 L849.8 488.3 L851.8 488.3 L851.8 491.5 L851.1 494.9 L848.6 496.0 L846.1 495.7 L844.4 492.9 L843.2 490.0Z"/>
<path d="M912.0 469.8 L914.0 471.6 L916.4 474.4 L917.2 477.0 L918.9 476.1 L919.9 478.7 L922.6 479.8 L926.3 479.2 L925.1 482.1 L923.1 483.8 L922.6 485.2 L921.4 488.1 L918.4 490.3 L916.9 489.5 L917.9 487.2 L916.9 485.5 L914.7 483.8 L916.7 482.1 L917.2 479.5 L915.9 476.7 L914.0 473.8 L912.5 471.3Z"/>
<path d="M912.0 487.2 L914.7 488.3 L915.9 490.6 L913.5 494.3 L912.2 496.6 L908.5 498.6 L907.3 502.3 L904.6 504.6 L901.1 504.6 L896.9 502.8 L897.4 500.6 L900.4 497.7 L904.6 495.7 L907.8 493.2 L909.5 490.6 L910.8 488.1Z"/>
<path d="M890.5 429.5 L894.2 432.3 L897.9 435.4 L896.2 435.1 L892.5 432.3Z"/>
<path d="M607.6 406.1 L609.3 410.4 L610.3 416.1 L608.6 418.9 L607.9 423.2 L606.4 428.9 L604.4 435.1 L602.4 442.5 L597.5 444.5 L594.5 443.1 L592.8 436.0 L593.8 432.6 L595.5 428.9 L595.3 421.8 L594.5 418.4 L597.7 417.2 L600.7 416.4 L604.2 413.5 L605.6 410.1 L606.6 407.3Z"/>
<path d="M471.4 270.2 L472.9 269.9 L475.4 271.9 L478.8 271.6 L481.1 272.2 L484.5 270.5 L487.2 269.0 L489.7 267.9 L493.4 267.3 L498.3 267.3 L502.0 266.5 L504.5 266.8 L507.2 267.0 L510.4 265.9 L513.1 266.8 L511.9 268.5 L512.1 270.2 L513.1 271.9 L512.6 273.9 L510.9 275.6 L513.1 276.7 L514.4 277.6 L518.6 278.4 L523.0 279.8 L523.5 279.8 L526.9 283.3 L530.4 285.2 L533.4 285.8 L535.3 283.8 L535.6 280.7 L537.8 278.7 L540.3 278.4 L543.0 279.3 L545.2 280.7 L547.7 281.8 L548.2 282.1 L552.6 283.0 L557.5 284.1 L559.8 283.3 L562.5 282.4 L565.7 283.0 L566.2 287.0 L566.7 289.5 L567.9 291.8 L569.4 294.6 L570.9 298.0 L572.3 301.5 L573.6 303.7 L574.1 306.6 L577.0 309.4 L577.8 312.3 L577.8 316.2 L578.5 319.1 L581.0 320.8 L582.4 325.1 L583.4 327.6 L585.2 329.3 L587.6 331.0 L590.3 333.9 L591.3 335.0 L592.8 336.4 L592.6 339.0 L593.3 339.9 L597.0 342.4 L600.7 341.3 L604.4 340.1 L608.1 339.6 L611.3 338.2 L612.5 338.4 L612.0 342.1 L611.3 345.0 L609.8 348.7 L608.1 352.1 L606.6 355.5 L604.4 359.2 L601.4 362.3 L597.7 366.3 L594.5 369.2 L592.1 372.0 L590.8 373.1 L588.4 376.8 L586.9 378.5 L585.2 380.0 L583.9 383.7 L582.7 386.2 L581.7 389.1 L582.9 391.3 L583.4 394.8 L583.4 397.6 L584.2 400.4 L585.7 401.6 L585.9 404.7 L586.1 409.0 L586.6 413.2 L586.4 414.7 L584.7 418.4 L582.2 420.4 L579.2 422.6 L577.0 423.2 L575.3 425.8 L572.8 428.0 L572.1 428.3 L571.6 430.9 L573.1 433.2 L573.6 436.0 L573.6 439.7 L573.6 440.3 L571.1 442.5 L567.4 444.0 L566.4 446.0 L567.2 448.8 L566.2 453.1 L564.4 454.5 L562.5 457.0 L560.5 460.2 L558.0 463.0 L554.8 465.9 L551.4 468.1 L549.1 468.7 L545.2 469.0 L541.5 469.0 L537.8 469.8 L535.3 471.0 L532.9 469.8 L531.4 469.0 L531.1 465.9 L530.4 465.0 L531.1 462.2 L529.4 458.8 L527.9 455.1 L526.7 453.4 L524.7 450.2 L523.2 447.4 L523.0 444.5 L522.0 440.3 L521.8 437.1 L520.5 434.0 L518.8 430.3 L517.1 426.0 L515.1 422.6 L515.1 421.2 L515.1 417.5 L516.3 413.2 L517.1 409.8 L519.1 407.8 L520.0 404.7 L519.8 401.9 L518.3 398.5 L518.6 397.0 L518.1 394.2 L516.6 390.5 L516.1 389.1 L515.6 386.2 L515.1 385.7 L513.6 383.4 L511.2 380.5 L509.4 377.7 L508.2 375.1 L507.5 374.0 L508.9 372.6 L509.2 370.9 L509.7 368.6 L509.9 365.7 L510.2 363.2 L509.7 360.9 L508.0 359.2 L506.7 358.9 L504.5 359.5 L502.0 359.8 L500.8 359.8 L499.3 357.2 L497.1 354.4 L494.4 353.8 L491.9 354.1 L489.0 354.6 L487.2 355.5 L485.5 356.4 L482.3 357.8 L480.8 358.6 L478.6 357.5 L476.1 357.2 L472.4 357.5 L469.5 358.6 L467.0 359.5 L463.8 357.8 L461.3 354.9 L459.4 354.1 L457.6 352.4 L455.2 350.7 L453.4 347.8 L453.2 345.5 L452.2 345.0 L450.2 342.4 L449.0 340.7 L447.5 338.2 L444.8 336.7 L444.6 333.6 L444.1 331.6 L442.8 330.2 L444.1 327.9 L445.3 325.9 L445.8 322.2 L446.5 320.5 L445.8 317.4 L445.3 316.5 L444.1 312.8 L444.1 310.8 L446.0 306.6 L446.5 304.6 L449.0 301.2 L450.2 297.8 L452.9 294.6 L453.9 292.9 L454.2 292.6 L457.6 291.2 L460.8 288.7 L462.1 285.8 L462.3 285.5 L461.8 282.4 L463.3 280.1 L465.0 277.3 L467.3 276.4 L469.2 275.3 L470.5 272.4Z"/>
<path d="M516.6 263.9 L518.8 263.3 L524.5 263.1 L523.2 266.8 L523.2 267.6 L521.0 266.5 L516.8 265.0Z"/>
<path d="M506.2 255.4 L508.7 254.8 L510.2 256.8 L509.7 260.5 L508.0 261.4 L506.7 260.5 L506.7 257.4Z"/>
<path d="M509.2 249.7 L509.4 252.5 L508.7 254.2 L507.2 252.8 L507.5 250.8Z"/>
<path d="M544.0 270.7 L546.4 271.3 L550.9 271.6 L550.6 272.3 L546.9 272.6 L544.0 271.9Z"/>
<path d="M565.7 272.2 L567.4 271.6 L571.1 270.5 L569.9 272.4 L567.4 273.6 L565.9 273.2Z"/>
<path d="M101.2 314.5 L103.7 315.4 L103.9 316.8 L102.2 318.1 L101.2 316.2Z"/>
<path d="M99.5 312.3 L101.2 312.6 L100.7 313.4 L99.7 313.1Z"/>
<path d="M42.0 611.5 L55.0 612.7 L70.1 614.0 L85.1 615.2 L100.2 614.7 L115.2 615.2 L119.0 614.0 L115.2 611.5 L107.7 610.2 L105.2 605.2 L115.2 602.7 L112.7 598.9 L102.7 596.4 L96.4 592.7 L102.7 591.4 L112.7 593.9 L117.7 592.7 L116.5 588.9 L122.7 588.1 L135.3 587.1 L150.3 585.6 L165.4 586.4 L175.4 585.1 L180.4 582.1 L190.5 583.1 L198.0 582.1 L200.5 585.1 L208.0 583.1 L215.5 584.6 L225.6 585.1 L235.6 582.1 L238.1 577.6 L248.1 577.1 L258.2 579.6 L265.7 580.6 L278.2 579.6 L290.0 580.1 L290.0 628.0 L42.0 628.0Z"/>
<path d="M81.4 597.2 L90.2 596.4 L91.9 599.7 L86.4 601.4 L82.1 600.2Z"/>
<path d="M270.0 580.1 L282.5 578.9 L295.1 577.6 L300.1 572.6 L307.6 571.3 L310.1 575.1 L315.1 575.1 L311.4 568.8 L317.6 568.8 L320.2 573.9 L323.9 570.1 L315.1 565.1 L320.2 562.6 L327.7 561.3 L332.7 555.0 L339.0 551.3 L345.2 549.5 L346.5 551.3 L341.5 553.8 L336.4 557.6 L333.9 562.6 L335.7 570.1 L337.2 577.6 L337.2 585.1 L330.2 588.9 L323.9 590.2 L337.7 591.4 L350.2 593.2 L365.3 595.7 L380.3 597.2 L395.4 595.7 L405.4 592.7 L415.4 588.9 L425.5 585.1 L435.5 582.6 L445.5 580.1 L455.6 578.1 L468.1 576.4 L478.1 573.9 L485.6 574.6 L495.7 572.1 L508.2 571.3 L520.0 572.1 L520.0 628.0 L270.0 628.0Z"/>
<path d="M500.0 572.1 L515.0 572.1 L530.1 571.8 L540.1 572.6 L550.2 571.3 L560.2 570.1 L570.2 569.6 L582.7 570.6 L587.8 566.3 L597.8 565.1 L607.8 563.8 L612.8 560.6 L622.9 560.1 L630.4 562.6 L635.4 564.6 L645.4 563.8 L655.5 564.6 L660.5 572.1 L668.0 569.6 L675.5 568.1 L683.0 565.1 L693.1 563.1 L703.1 562.1 L715.6 562.1 L725.7 561.3 L738.2 560.1 L750.0 560.6 L750.0 628.0 L500.0 628.0Z"/>
<path d="M720.0 562.1 L730.0 560.6 L740.1 560.1 L750.1 561.3 L757.6 560.1 L770.2 561.3 L780.2 562.6 L790.2 562.1 L805.3 561.3 L820.3 560.6 L830.3 562.1 L840.4 563.1 L850.4 565.1 L860.4 567.1 L870.5 568.8 L880.5 570.6 L890.5 572.6 L900.5 574.6 L907.6 577.1 L905.6 580.1 L898.0 582.1 L893.0 585.1 L888.0 588.9 L893.0 593.9 L900.5 593.9 L895.5 595.7 L888.0 596.4 L881.7 598.2 L881.7 601.4 L888.0 605.2 L900.5 607.7 L915.6 609.7 L930.0 611.5 L930.0 628.0 L720.0 628.0Z"/>
<path d="M867.3 387.4 L869.8 389.1 L870.8 391.3 L868.8 390.8 L867.6 388.8Z"/>
<path d="M872.0 390.8 L874.5 392.5 L878.2 394.5 L880.4 396.2 L878.9 396.2 L875.7 394.2 L872.8 392.5Z"/>
<path d="M879.7 398.5 L882.6 399.6 L882.9 400.3 L879.9 399.9Z"/>
<path d="M882.1 395.6 L883.9 398.5 L884.1 399.6 L882.6 397.9Z"/>
<path d="M883.9 401.0 L886.3 402.4 L885.1 402.7Z"/>
<path d="M896.9 413.8 L898.4 415.2 L897.9 416.7 L896.9 415.5Z"/>
<path d="M898.7 417.5 L899.9 418.9 L898.9 419.5Z"/>
<path d="M923.3 421.5 L926.5 422.1 L926.3 423.8 L923.6 423.5Z"/>
<path d="M655.5 511.4 L659.4 511.7 L659.2 513.1 L656.2 513.1Z"/>
<path d="M617.7 335.9 L620.4 336.2 L619.9 337.0 L618.0 336.7Z"/>
<path d="M714.4 333.9 L715.4 334.2 L715.2 339.0 L714.4 338.7Z"/>
<path d="M260.3 372.9 L261.8 372.9 L261.8 374.8 L260.3 374.6Z"/>
<path d="M444.6 291.2 L446.0 290.9 L445.5 292.2Z"/>
<path d="M447.0 292.1 L448.0 292.1 L447.8 292.9Z"/>
<path d="M468.0 194.8 L470.0 194.8 L469.2 196.8Z"/>
<path d="M482.1 199.6 L483.8 199.9 L482.8 201.6Z"/>
</g><g fill="#fff" stroke="none">
<path d="M544.9 185.7 L547.7 188.2 L541.2 192.0 L536.2 196.3 L532.6 200.4 L529.0 199.7 L529.9 195.7 L534.3 191.3 L539.3 187.6 L542.4 185.7Z"/>
<path d="M527.4 202.6 L538.7 203.6 L539.2 210.1 L536.4 215.2 L533.6 217.9 L527.4 220.2 L518.6 220.9 L512.3 220.2 L511.1 216.7 L516.1 214.6 L522.4 213.4 L526.1 210.1 L527.4 206.4Z"/>
<path d="M504.8 207.0 L511.1 205.7 L516.7 208.3 L516.1 212.0 L511.1 213.4 L506.7 211.6Z"/>
<path d="M539.9 202.1 L556.2 201.9 L556.5 203.1 L539.9 203.4Z"/>
<path d="M585.2 182.9 L588.2 181.9 L589.9 184.9 L584.9 187.4 L580.7 189.9 L576.6 189.1 L573.2 186.3 L571.9 183.3 L575.7 181.9 L579.9 184.4Z"/>
</g>
<g stroke="#adadad" stroke-width="1" fill="none">
<line x1="116.5" y1="116" x2="116.5" y2="628"/>
<line x1="190.5" y1="116" x2="190.5" y2="628"/>
<line x1="264.5" y1="116" x2="264.5" y2="628"/>
<line x1="338.5" y1="116" x2="338.5" y2="628"/>
<line x1="412.5" y1="116" x2="412.5" y2="628"/>
<line x1="486.5" y1="116" x2="486.5" y2="628"/>
<line x1="559.5" y1="116" x2="559.5" y2="628"/>
<line x1="633.5" y1="116" x2="633.5" y2="628"/>
<line x1="707.5" y1="116" x2="707.5" y2="628"/>
<line x1="781.5" y1="116" x2="781.5" y2="628"/>
<line x1="855.5" y1="116" x2="855.5" y2="628"/>
<line x1="42" y1="158.5" x2="930" y2="158.5"/>
<line x1="42" y1="201.5" x2="930" y2="201.5"/>
<line x1="42" y1="244.5" x2="930" y2="244.5"/>
<line x1="42" y1="287.5" x2="930" y2="287.5"/>
<line x1="42" y1="329.5" x2="930" y2="329.5"/>
<line x1="42" y1="415.5" x2="930" y2="415.5"/>
<line x1="42" y1="457.5" x2="930" y2="457.5"/>
<line x1="42" y1="500.5" x2="930" y2="500.5"/>
<line x1="42" y1="543.5" x2="930" y2="543.5"/>
<line x1="42" y1="586.5" x2="930" y2="586.5"/>
</g>
<line x1="42" y1="372.5" x2="930" y2="372.5" stroke="#000" stroke-width="1"/>
<rect x="42.5" y="116.5" width="888" height="512" fill="none" stroke="#000" stroke-width="1"/>
</svg>
<div class="t" id="title" style="left:0;width:972px;text-align:center;top:12px;font-size:18px;font-weight:bold;line-height:20px;">Altocumulus</div>
<div class="t" id="sub" style="left:0;width:972px;text-align:center;top:38px;font-size:14.9px;font-weight:bold;line-height:16px;">Frequency of Occurrence (%)</div>
<div class="t" id="july" style="left:44.5px;top:88px;font-size:12.8px;line-height:14px;">July (1971 - 1996)</div>
<div class="t" id="land" style="right:71.5px;top:88px;font-size:13.05px;line-height:14px;">Land Areas Only</div>
<div class="t" id="zon" style="left:944.5px;width:60px;text-align:center;top:88.5px;font-size:9.2px;line-height:12.6px;-webkit-text-stroke:0.12px #000;">ZONAL<br>AVERAGE</div>
<div class="ax" style="left:-31.4px;width:60px;text-align:right;top:110.0px;">90 ° N</div>
<div class="ax" style="left:-31.4px;width:60px;text-align:right;top:195.3px;">60 ° N</div>
<div class="ax" style="left:-31.4px;width:60px;text-align:right;top:280.7px;">30 ° N</div>
<div class="ax" style="left:-31.4px;width:60px;text-align:right;top:366.0px;">0 °</div>
<div class="ax" style="left:-31.4px;width:60px;text-align:right;top:451.3px;">30 ° S</div>
<div class="ax" style="left:-31.4px;width:60px;text-align:right;top:536.7px;">60 ° S</div>
<div class="ax" style="left:-31.4px;width:60px;text-align:right;top:622.0px;">90 ° S</div>
<div class="ax" style="left:-4.5px;width:100px;text-align:center;top:643px;">180 ° W</div>
<div class="ax" style="left:68.7px;width:100px;text-align:center;top:643px;">150 ° W</div>
<div class="ax" style="left:142.0px;width:100px;text-align:center;top:643px;">120 ° W</div>
<div class="ax" style="left:215.2px;width:100px;text-align:center;top:643px;">90 ° W</div>
<div class="ax" style="left:288.5px;width:100px;text-align:center;top:643px;">60 ° W</div>
<div class="ax" style="left:361.7px;width:100px;text-align:center;top:643px;">30 ° W</div>
<div class="ax" style="left:434.9px;width:100px;text-align:center;top:643px;">0 °</div>
<div class="ax" style="left:508.2px;width:100px;text-align:center;top:643px;">30 ° E</div>
<div class="ax" style="left:581.4px;width:100px;text-align:center;top:643px;">60 ° E</div>
<div class="ax" style="left:654.7px;width:100px;text-align:center;top:643px;">90 ° E</div>
<div class="ax" style="left:727.9px;width:100px;text-align:center;top:643px;">120 ° E</div>
<div class="ax" style="left:801.1px;width:100px;text-align:center;top:643px;">150 ° E</div>
<div class="ax" style="left:874.4px;width:100px;text-align:center;top:643px;">180 ° E</div>
<div class="t" id="glob" style="left:394.5px;top:676px;font-size:10.67px;line-height:12px;white-space:pre;letter-spacing:0.16px;">GLOBAL AVERAGE (LAND)<span style="margin-left:8px;letter-spacing:0;">35.3 %</span></div>
<div class="t" id="file" style="left:0;width:972px;text-align:center;top:708px;font-size:13.2px;line-height:14px;">(File name = lmcf07mh.txt, MGRP = 9076, TYPE = 23, PCODE = 2, SN = 7)</div>
<div id="nums"><span class="n" style="left:213.7px;top:148px">43</span>
<span class="n" style="left:312.3px;top:148px">45</span>
<span class="n" style="left:460.3px;top:148px">46</span>
<span class="n" style="left:509.7px;top:148px">59</span>
<span class="n" style="left:559.0px;top:148px">49</span>
<span class="n" style="left:657.7px;top:148px">45</span>
<span class="n" style="left:707.0px;top:148px">43</span>
<span class="n" style="left:756.3px;top:148px">50</span>
<span class="n" style="left:805.7px;top:148px">41</span>
<span class="n" style="left:855.0px;top:148px">37</span>
<span class="n" style="left:65.7px;top:163px">46</span>
<span class="n" style="left:115.0px;top:163px">35</span>
<span class="n" style="left:164.3px;top:163px">50</span>
<span class="n" style="left:263.0px;top:163px">47</span>
<span class="n" style="left:312.3px;top:163px">46</span>
<span class="n" style="left:411.0px;top:163px">61</span>
<span class="n" style="left:460.3px;top:163px">48</span>
<span class="n" style="left:509.7px;top:163px">49</span>
<span class="n" style="left:559.0px;top:163px">53</span>
<span class="n" style="left:608.3px;top:163px">40</span>
<span class="n" style="left:657.7px;top:163px">40</span>
<span class="n" style="left:707.0px;top:163px">38</span>
<span class="n" style="left:756.3px;top:163px">47</span>
<span class="n" style="left:805.7px;top:163px">46</span>
<span class="n" style="left:855.0px;top:163px">44</span>
<span class="n" style="left:904.3px;top:163px">46</span>
<span class="n" style="left:53.3px;top:177px">45</span>
<span class="n" style="left:78.0px;top:177px">41</span>
<span class="n" style="left:127.3px;top:177px">33</span>
<span class="n" style="left:152.0px;top:177px">44</span>
<span class="n" style="left:176.7px;top:177px">48</span>
<span class="n" style="left:201.3px;top:177px">42</span>
<span class="n" style="left:226.0px;top:177px">48</span>
<span class="n" style="left:250.7px;top:177px">40</span>
<span class="n" style="left:275.3px;top:177px">40</span>
<span class="n" style="left:300.0px;top:177px">32</span>
<span class="n" style="left:324.7px;top:177px">42</span>
<span class="n" style="left:349.3px;top:177px">45</span>
<span class="n" style="left:374.0px;top:177px">16</span>
<span class="n" style="left:398.7px;top:177px">36</span>
<span class="n" style="left:423.3px;top:177px">55</span>
<span class="n" style="left:448.0px;top:177px">39</span>
<span class="n" style="left:522.0px;top:177px">53</span>
<span class="n" style="left:546.7px;top:177px">52</span>
<span class="n" style="left:571.3px;top:177px">49</span>
<span class="n" style="left:596.0px;top:177px">50</span>
<span class="n" style="left:620.7px;top:177px">45</span>
<span class="n" style="left:645.3px;top:177px">44</span>
<span class="n" style="left:670.0px;top:177px">39</span>
<span class="n" style="left:694.7px;top:177px">36</span>
<span class="n" style="left:719.3px;top:177px">27</span>
<span class="n" style="left:744.0px;top:177px">28</span>
<span class="n" style="left:768.7px;top:177px">39</span>
<span class="n" style="left:793.3px;top:177px">38</span>
<span class="n" style="left:818.0px;top:177px">36</span>
<span class="n" style="left:842.7px;top:177px">43</span>
<span class="n" style="left:867.3px;top:177px">42</span>
<span class="n" style="left:892.0px;top:177px">42</span>
<span class="n" style="left:916.7px;top:177px">42</span>
<span class="n" style="left:53.3px;top:191px">41</span>
<span class="n" style="left:78.0px;top:191px">36</span>
<span class="n" style="left:102.7px;top:191px">63</span>
<span class="n" style="left:127.3px;top:191px">61</span>
<span class="n" style="left:152.0px;top:191px">62</span>
<span class="n" style="left:176.7px;top:191px">62</span>
<span class="n" style="left:201.3px;top:191px">56</span>
<span class="n" style="left:226.0px;top:191px">50</span>
<span class="n" style="left:250.7px;top:191px">48</span>
<span class="n" style="left:275.3px;top:191px">49</span>
<span class="n" style="left:300.0px;top:191px">41</span>
<span class="n" style="left:324.7px;top:191px">53</span>
<span class="n" style="left:349.3px;top:191px">37</span>
<span class="n" style="left:374.0px;top:191px">44</span>
<span class="n" style="left:423.3px;top:191px">51</span>
<span class="n" style="left:448.0px;top:191px">54</span>
<span class="n" style="left:472.7px;top:191px">35</span>
<span class="n" style="left:497.3px;top:191px">53</span>
<span class="n" style="left:522.0px;top:191px">51</span>
<span class="n" style="left:546.7px;top:191px">53</span>
<span class="n" style="left:571.3px;top:191px">46</span>
<span class="n" style="left:596.0px;top:191px">52</span>
<span class="n" style="left:620.7px;top:191px">43</span>
<span class="n" style="left:645.3px;top:191px">42</span>
<span class="n" style="left:670.0px;top:191px">31</span>
<span class="n" style="left:694.7px;top:191px">20</span>
<span class="n" style="left:719.3px;top:191px">26</span>
<span class="n" style="left:744.0px;top:191px">33</span>
<span class="n" style="left:768.7px;top:191px">36</span>
<span class="n" style="left:793.3px;top:191px">40</span>
<span class="n" style="left:818.0px;top:191px">38</span>
<span class="n" style="left:842.7px;top:191px">33</span>
<span class="n" style="left:867.3px;top:191px">39</span>
<span class="n" style="left:892.0px;top:191px">47</span>
<span class="n" style="left:916.7px;top:191px">41</span>
<span class="n" style="left:53.3px;top:205px">22</span>
<span class="n" style="left:78.0px;top:205px">33</span>
<span class="n" style="left:102.7px;top:205px">42</span>
<span class="n" style="left:152.0px;top:205px">35</span>
<span class="n" style="left:176.7px;top:205px">62</span>
<span class="n" style="left:201.3px;top:205px">60</span>
<span class="n" style="left:226.0px;top:205px">50</span>
<span class="n" style="left:250.7px;top:205px">51</span>
<span class="n" style="left:300.0px;top:205px">43</span>
<span class="n" style="left:324.7px;top:205px">48</span>
<span class="n" style="left:472.7px;top:205px">54</span>
<span class="n" style="left:497.3px;top:205px">46</span>
<span class="n" style="left:522.0px;top:205px">47</span>
<span class="n" style="left:546.7px;top:205px">39</span>
<span class="n" style="left:571.3px;top:205px">37</span>
<span class="n" style="left:596.0px;top:205px">42</span>
<span class="n" style="left:620.7px;top:205px">39</span>
<span class="n" style="left:645.3px;top:205px">37</span>
<span class="n" style="left:670.0px;top:205px">35</span>
<span class="n" style="left:694.7px;top:205px">35</span>
<span class="n" style="left:719.3px;top:205px">32</span>
<span class="n" style="left:744.0px;top:205px">38</span>
<span class="n" style="left:768.7px;top:205px">35</span>
<span class="n" style="left:793.3px;top:205px">30</span>
<span class="n" style="left:818.0px;top:205px">24</span>
<span class="n" style="left:842.7px;top:205px">32</span>
<span class="n" style="left:867.3px;top:205px">50</span>
<span class="n" style="left:892.0px;top:205px">63</span>
<span class="n" style="left:53.3px;top:219px">31</span>
<span class="n" style="left:152.0px;top:219px">47</span>
<span class="n" style="left:176.7px;top:219px">59</span>
<span class="n" style="left:201.3px;top:219px">61</span>
<span class="n" style="left:226.0px;top:219px">57</span>
<span class="n" style="left:250.7px;top:219px">47</span>
<span class="n" style="left:275.3px;top:219px">44</span>
<span class="n" style="left:300.0px;top:219px">47</span>
<span class="n" style="left:324.7px;top:219px">50</span>
<span class="n" style="left:349.3px;top:219px">46</span>
<span class="n" style="left:448.0px;top:219px">18</span>
<span class="n" style="left:472.7px;top:219px">41</span>
<span class="n" style="left:497.3px;top:219px">40</span>
<span class="n" style="left:522.0px;top:219px">41</span>
<span class="n" style="left:546.7px;top:219px">37</span>
<span class="n" style="left:571.3px;top:219px">39</span>
<span class="n" style="left:596.0px;top:219px">36</span>
<span class="n" style="left:620.7px;top:219px">37</span>
<span class="n" style="left:645.3px;top:219px">30</span>
<span class="n" style="left:670.0px;top:219px">31</span>
<span class="n" style="left:694.7px;top:219px">34</span>
<span class="n" style="left:719.3px;top:219px">26</span>
<span class="n" style="left:744.0px;top:219px">43</span>
<span class="n" style="left:768.7px;top:219px">41</span>
<span class="n" style="left:793.3px;top:219px">31</span>
<span class="n" style="left:818.0px;top:219px">30</span>
<span class="n" style="left:842.7px;top:219px">41</span>
<span class="n" style="left:867.3px;top:219px">42</span>
<span class="n" style="left:182.8px;top:234px">43</span>
<span class="n" style="left:195.2px;top:234px">46</span>
<span class="n" style="left:207.5px;top:234px">52</span>
<span class="n" style="left:219.8px;top:234px">51</span>
<span class="n" style="left:232.2px;top:234px">52</span>
<span class="n" style="left:244.5px;top:234px">52</span>
<span class="n" style="left:256.8px;top:234px">35</span>
<span class="n" style="left:269.2px;top:234px">41</span>
<span class="n" style="left:281.5px;top:234px">43</span>
<span class="n" style="left:293.8px;top:234px">44</span>
<span class="n" style="left:306.2px;top:234px">54</span>
<span class="n" style="left:318.5px;top:234px">51</span>
<span class="n" style="left:330.8px;top:234px">45</span>
<span class="n" style="left:343.2px;top:234px">33</span>
<span class="n" style="left:355.5px;top:234px">45</span>
<span class="n" style="left:466.5px;top:234px">39</span>
<span class="n" style="left:478.8px;top:234px">33</span>
<span class="n" style="left:491.2px;top:234px">34</span>
<span class="n" style="left:503.5px;top:234px">42</span>
<span class="n" style="left:515.8px;top:234px">38</span>
<span class="n" style="left:528.2px;top:234px">44</span>
<span class="n" style="left:540.5px;top:234px">43</span>
<span class="n" style="left:552.8px;top:234px">42</span>
<span class="n" style="left:565.2px;top:234px">30</span>
<span class="n" style="left:577.5px;top:234px">30</span>
<span class="n" style="left:589.8px;top:234px">36</span>
<span class="n" style="left:602.2px;top:234px">32</span>
<span class="n" style="left:614.5px;top:234px">28</span>
<span class="n" style="left:626.8px;top:234px">27</span>
<span class="n" style="left:639.2px;top:234px">23</span>
<span class="n" style="left:651.5px;top:234px">20</span>
<span class="n" style="left:663.8px;top:234px">24</span>
<span class="n" style="left:676.2px;top:234px">21</span>
<span class="n" style="left:688.5px;top:234px">38</span>
<span class="n" style="left:700.8px;top:234px">42</span>
<span class="n" style="left:713.2px;top:234px">47</span>
<span class="n" style="left:725.5px;top:234px">55</span>
<span class="n" style="left:737.8px;top:234px">39</span>
<span class="n" style="left:750.2px;top:234px">42</span>
<span class="n" style="left:762.5px;top:234px">45</span>
<span class="n" style="left:774.8px;top:234px">33</span>
<span class="n" style="left:787.2px;top:234px">35</span>
<span class="n" style="left:799.5px;top:234px">33</span>
<span class="n" style="left:811.8px;top:234px">34</span>
<span class="n" style="left:824.2px;top:234px">31</span>
<span class="n" style="left:836.5px;top:234px">39</span>
<span class="n" style="left:848.8px;top:234px">46</span>
<span class="n" style="left:861.2px;top:234px">22</span>
<span class="n" style="left:182.8px;top:248px">22</span>
<span class="n" style="left:195.2px;top:248px">42</span>
<span class="n" style="left:207.5px;top:248px">57</span>
<span class="n" style="left:219.8px;top:248px">52</span>
<span class="n" style="left:232.2px;top:248px">54</span>
<span class="n" style="left:244.5px;top:248px">45</span>
<span class="n" style="left:256.8px;top:248px">47</span>
<span class="n" style="left:269.2px;top:248px">39</span>
<span class="n" style="left:281.5px;top:248px">36</span>
<span class="n" style="left:293.8px;top:248px">42</span>
<span class="n" style="left:306.2px;top:248px">39</span>
<span class="n" style="left:318.5px;top:248px">27</span>
<span class="n" style="left:330.8px;top:248px">45</span>
<span class="n" style="left:466.5px;top:248px">23</span>
<span class="n" style="left:478.8px;top:248px">25</span>
<span class="n" style="left:491.2px;top:248px">31</span>
<span class="n" style="left:503.5px;top:248px">23</span>
<span class="n" style="left:515.8px;top:248px">24</span>
<span class="n" style="left:528.2px;top:248px">19</span>
<span class="n" style="left:540.5px;top:248px">24</span>
<span class="n" style="left:552.8px;top:248px">27</span>
<span class="n" style="left:565.2px;top:248px">23</span>
<span class="n" style="left:577.5px;top:248px">36</span>
<span class="n" style="left:589.8px;top:248px">39</span>
<span class="n" style="left:602.2px;top:248px">41</span>
<span class="n" style="left:614.5px;top:248px">33</span>
<span class="n" style="left:626.8px;top:248px">22</span>
<span class="n" style="left:639.2px;top:248px">16</span>
<span class="n" style="left:651.5px;top:248px">19</span>
<span class="n" style="left:663.8px;top:248px">28</span>
<span class="n" style="left:676.2px;top:248px">29</span>
<span class="n" style="left:688.5px;top:248px">41</span>
<span class="n" style="left:700.8px;top:248px">46</span>
<span class="n" style="left:713.2px;top:248px">36</span>
<span class="n" style="left:725.5px;top:248px">46</span>
<span class="n" style="left:737.8px;top:248px">33</span>
<span class="n" style="left:750.2px;top:248px">23</span>
<span class="n" style="left:762.5px;top:248px">26</span>
<span class="n" style="left:774.8px;top:248px">32</span>
<span class="n" style="left:787.2px;top:248px">29</span>
<span class="n" style="left:799.5px;top:248px">25</span>
<span class="n" style="left:811.8px;top:248px">36</span>
<span class="n" style="left:824.2px;top:248px">35</span>
<span class="n" style="left:836.5px;top:248px">53</span>
<span class="n" style="left:848.8px;top:248px">34</span>
<span class="n" style="left:182.8px;top:262px">14</span>
<span class="n" style="left:195.2px;top:262px">30</span>
<span class="n" style="left:207.5px;top:262px">35</span>
<span class="n" style="left:219.8px;top:262px">60</span>
<span class="n" style="left:232.2px;top:262px">48</span>
<span class="n" style="left:244.5px;top:262px">34</span>
<span class="n" style="left:256.8px;top:262px">35</span>
<span class="n" style="left:269.2px;top:262px">33</span>
<span class="n" style="left:281.5px;top:262px">33</span>
<span class="n" style="left:293.8px;top:262px">38</span>
<span class="n" style="left:404.8px;top:262px">43</span>
<span class="n" style="left:417.2px;top:262px">26</span>
<span class="n" style="left:466.5px;top:262px">16</span>
<span class="n" style="left:478.8px;top:262px">22</span>
<span class="n" style="left:491.2px;top:262px">22</span>
<span class="n" style="left:503.5px;top:262px">17</span>
<span class="n" style="left:515.8px;top:262px">12</span>
<span class="n" style="left:528.2px;top:262px">13</span>
<span class="n" style="left:540.5px;top:262px">14</span>
<span class="n" style="left:552.8px;top:262px">7</span>
<span class="n" style="left:565.2px;top:262px">13</span>
<span class="n" style="left:577.5px;top:262px">9</span>
<span class="n" style="left:589.8px;top:262px">11</span>
<span class="n" style="left:602.2px;top:262px">30</span>
<span class="n" style="left:614.5px;top:262px">31</span>
<span class="n" style="left:626.8px;top:262px">18</span>
<span class="n" style="left:639.2px;top:262px">9</span>
<span class="n" style="left:651.5px;top:262px">13</span>
<span class="n" style="left:663.8px;top:262px">16</span>
<span class="n" style="left:676.2px;top:262px">51</span>
<span class="n" style="left:688.5px;top:262px">41</span>
<span class="n" style="left:700.8px;top:262px">42</span>
<span class="n" style="left:713.2px;top:262px">38</span>
<span class="n" style="left:725.5px;top:262px">33</span>
<span class="n" style="left:737.8px;top:262px">38</span>
<span class="n" style="left:750.2px;top:262px">35</span>
<span class="n" style="left:762.5px;top:262px">38</span>
<span class="n" style="left:774.8px;top:262px">41</span>
<span class="n" style="left:787.2px;top:262px">39</span>
<span class="n" style="left:799.5px;top:262px">17</span>
<span class="n" style="left:811.8px;top:262px">41</span>
<span class="n" style="left:824.2px;top:262px">53</span>
<span class="n" style="left:836.5px;top:262px">49</span>
<span class="n" style="left:195.2px;top:276px">21</span>
<span class="n" style="left:207.5px;top:276px">48</span>
<span class="n" style="left:219.8px;top:276px">51</span>
<span class="n" style="left:232.2px;top:276px">38</span>
<span class="n" style="left:244.5px;top:276px">30</span>
<span class="n" style="left:256.8px;top:276px">34</span>
<span class="n" style="left:269.2px;top:276px">34</span>
<span class="n" style="left:281.5px;top:276px">38</span>
<span class="n" style="left:330.8px;top:276px">41</span>
<span class="n" style="left:441.8px;top:276px">3</span>
<span class="n" style="left:466.5px;top:276px">18</span>
<span class="n" style="left:478.8px;top:276px">19</span>
<span class="n" style="left:491.2px;top:276px">21</span>
<span class="n" style="left:503.5px;top:276px">15</span>
<span class="n" style="left:515.8px;top:276px">9</span>
<span class="n" style="left:528.2px;top:276px">3</span>
<span class="n" style="left:540.5px;top:276px">1</span>
<span class="n" style="left:552.8px;top:276px">0</span>
<span class="n" style="left:565.2px;top:276px">3</span>
<span class="n" style="left:577.5px;top:276px">2</span>
<span class="n" style="left:589.8px;top:276px">3</span>
<span class="n" style="left:602.2px;top:276px">15</span>
<span class="n" style="left:614.5px;top:276px">16</span>
<span class="n" style="left:626.8px;top:276px">7</span>
<span class="n" style="left:639.2px;top:276px">7</span>
<span class="n" style="left:651.5px;top:276px">25</span>
<span class="n" style="left:663.8px;top:276px">43</span>
<span class="n" style="left:676.2px;top:276px">44</span>
<span class="n" style="left:688.5px;top:276px">42</span>
<span class="n" style="left:700.8px;top:276px">39</span>
<span class="n" style="left:713.2px;top:276px">22</span>
<span class="n" style="left:725.5px;top:276px">31</span>
<span class="n" style="left:737.8px;top:276px">47</span>
<span class="n" style="left:750.2px;top:276px">55</span>
<span class="n" style="left:762.5px;top:276px">50</span>
<span class="n" style="left:774.8px;top:276px">47</span>
<span class="n" style="left:787.2px;top:276px">47</span>
<span class="n" style="left:799.5px;top:276px">22</span>
<span class="n" style="left:811.8px;top:276px">48</span>
<span class="n" style="left:824.2px;top:276px">54</span>
<span class="n" style="left:47.2px;top:291px">27</span>
<span class="n" style="left:195.2px;top:291px">5</span>
<span class="n" style="left:207.5px;top:291px">35</span>
<span class="n" style="left:219.8px;top:291px">29</span>
<span class="n" style="left:232.2px;top:291px">25</span>
<span class="n" style="left:244.5px;top:291px">25</span>
<span class="n" style="left:256.8px;top:291px">39</span>
<span class="n" style="left:281.5px;top:291px">41</span>
<span class="n" style="left:293.8px;top:291px">23</span>
<span class="n" style="left:441.8px;top:291px">7</span>
<span class="n" style="left:454.2px;top:291px">11</span>
<span class="n" style="left:466.5px;top:291px">27</span>
<span class="n" style="left:478.8px;top:291px">25</span>
<span class="n" style="left:491.2px;top:291px">22</span>
<span class="n" style="left:503.5px;top:291px">10</span>
<span class="n" style="left:515.8px;top:291px">14</span>
<span class="n" style="left:528.2px;top:291px">5</span>
<span class="n" style="left:540.5px;top:291px">0</span>
<span class="n" style="left:552.8px;top:291px">0</span>
<span class="n" style="left:565.2px;top:291px">2</span>
<span class="n" style="left:577.5px;top:291px">5</span>
<span class="n" style="left:589.8px;top:291px">7</span>
<span class="n" style="left:602.2px;top:291px">8</span>
<span class="n" style="left:614.5px;top:291px">19</span>
<span class="n" style="left:626.8px;top:291px">28</span>
<span class="n" style="left:639.2px;top:291px">17</span>
<span class="n" style="left:651.5px;top:291px">27</span>
<span class="n" style="left:663.8px;top:291px">38</span>
<span class="n" style="left:676.2px;top:291px">48</span>
<span class="n" style="left:688.5px;top:291px">46</span>
<span class="n" style="left:700.8px;top:291px">37</span>
<span class="n" style="left:713.2px;top:291px">49</span>
<span class="n" style="left:725.5px;top:291px">56</span>
<span class="n" style="left:737.8px;top:291px">50</span>
<span class="n" style="left:750.2px;top:291px">49</span>
<span class="n" style="left:762.5px;top:291px">55</span>
<span class="n" style="left:774.8px;top:291px">49</span>
<span class="n" style="left:787.2px;top:291px">40</span>
<span class="n" style="left:799.5px;top:291px">39</span>
<span class="n" style="left:811.8px;top:291px">50</span>
<span class="n" style="left:836.5px;top:291px">36</span>
<span class="n" style="left:96.5px;top:305px">12</span>
<span class="n" style="left:207.5px;top:305px">36</span>
<span class="n" style="left:219.8px;top:305px">45</span>
<span class="n" style="left:232.2px;top:305px">32</span>
<span class="n" style="left:244.5px;top:305px">28</span>
<span class="n" style="left:269.2px;top:305px">25</span>
<span class="n" style="left:281.5px;top:305px">38</span>
<span class="n" style="left:293.8px;top:305px">24</span>
<span class="n" style="left:306.2px;top:305px">16</span>
<span class="n" style="left:441.8px;top:305px">24</span>
<span class="n" style="left:454.2px;top:305px">38</span>
<span class="n" style="left:491.2px;top:305px">41</span>
<span class="n" style="left:503.5px;top:305px">24</span>
<span class="n" style="left:540.5px;top:305px">3</span>
<span class="n" style="left:565.2px;top:305px">6</span>
<span class="n" style="left:577.5px;top:305px">14</span>
<span class="n" style="left:589.8px;top:305px">37</span>
<span class="n" style="left:602.2px;top:305px">15</span>
<span class="n" style="left:614.5px;top:305px">32</span>
<span class="n" style="left:626.8px;top:305px">33</span>
<span class="n" style="left:651.5px;top:305px">36</span>
<span class="n" style="left:663.8px;top:305px">51</span>
<span class="n" style="left:676.2px;top:305px">50</span>
<span class="n" style="left:688.5px;top:305px">53</span>
<span class="n" style="left:700.8px;top:305px">57</span>
<span class="n" style="left:713.2px;top:305px">53</span>
<span class="n" style="left:725.5px;top:305px">75</span>
<span class="n" style="left:737.8px;top:305px">52</span>
<span class="n" style="left:750.2px;top:305px">50</span>
<span class="n" style="left:762.5px;top:305px">45</span>
<span class="n" style="left:774.8px;top:305px">32</span>
<span class="n" style="left:787.2px;top:305px">23</span>
<span class="n" style="left:799.5px;top:305px">44</span>
<span class="n" style="left:861.2px;top:305px">38</span>
<span class="n" style="left:96.5px;top:319px">26</span>
<span class="n" style="left:207.5px;top:319px">23</span>
<span class="n" style="left:232.2px;top:319px">31</span>
<span class="n" style="left:244.5px;top:319px">37</span>
<span class="n" style="left:256.8px;top:319px">29</span>
<span class="n" style="left:269.2px;top:319px">43</span>
<span class="n" style="left:281.5px;top:319px">32</span>
<span class="n" style="left:293.8px;top:319px">27</span>
<span class="n" style="left:306.2px;top:319px">22</span>
<span class="n" style="left:318.5px;top:319px">30</span>
<span class="n" style="left:330.8px;top:319px">14</span>
<span class="n" style="left:429.5px;top:319px">25</span>
<span class="n" style="left:441.8px;top:319px">34</span>
<span class="n" style="left:454.2px;top:319px">35</span>
<span class="n" style="left:466.5px;top:319px">46</span>
<span class="n" style="left:478.8px;top:319px">50</span>
<span class="n" style="left:491.2px;top:319px">53</span>
<span class="n" style="left:503.5px;top:319px">47</span>
<span class="n" style="left:515.8px;top:319px">29</span>
<span class="n" style="left:528.2px;top:319px">23</span>
<span class="n" style="left:565.2px;top:319px">51</span>
<span class="n" style="left:577.5px;top:319px">60</span>
<span class="n" style="left:589.8px;top:319px">49</span>
<span class="n" style="left:602.2px;top:319px">31</span>
<span class="n" style="left:614.5px;top:319px">29</span>
<span class="n" style="left:663.8px;top:319px">45</span>
<span class="n" style="left:676.2px;top:319px">53</span>
<span class="n" style="left:688.5px;top:319px">55</span>
<span class="n" style="left:713.2px;top:319px">42</span>
<span class="n" style="left:725.5px;top:319px">71</span>
<span class="n" style="left:737.8px;top:319px">73</span>
<span class="n" style="left:750.2px;top:319px">38</span>
<span class="n" style="left:762.5px;top:319px">41</span>
<span class="n" style="left:774.8px;top:319px">44</span>
<span class="n" style="left:787.2px;top:319px">46</span>
<span class="n" style="left:898.2px;top:319px">21</span>
<span class="n" style="left:256.8px;top:333px">33</span>
<span class="n" style="left:269.2px;top:333px">54</span>
<span class="n" style="left:281.5px;top:333px">40</span>
<span class="n" style="left:293.8px;top:333px">27</span>
<span class="n" style="left:306.2px;top:333px">22</span>
<span class="n" style="left:318.5px;top:333px">23</span>
<span class="n" style="left:330.8px;top:333px">31</span>
<span class="n" style="left:343.2px;top:333px">10</span>
<span class="n" style="left:441.8px;top:333px">48</span>
<span class="n" style="left:454.2px;top:333px">51</span>
<span class="n" style="left:466.5px;top:333px">61</span>
<span class="n" style="left:478.8px;top:333px">61</span>
<span class="n" style="left:491.2px;top:333px">64</span>
<span class="n" style="left:503.5px;top:333px">59</span>
<span class="n" style="left:515.8px;top:333px">63</span>
<span class="n" style="left:528.2px;top:333px">80</span>
<span class="n" style="left:540.5px;top:333px">71</span>
<span class="n" style="left:552.8px;top:333px">68</span>
<span class="n" style="left:565.2px;top:333px">68</span>
<span class="n" style="left:577.5px;top:333px">62</span>
<span class="n" style="left:589.8px;top:333px">65</span>
<span class="n" style="left:602.2px;top:333px">55</span>
<span class="n" style="left:663.8px;top:333px">28</span>
<span class="n" style="left:676.2px;top:333px">55</span>
<span class="n" style="left:688.5px;top:333px">66</span>
<span class="n" style="left:713.2px;top:333px">36</span>
<span class="n" style="left:725.5px;top:333px">68</span>
<span class="n" style="left:737.8px;top:333px">71</span>
<span class="n" style="left:750.2px;top:333px">27</span>
<span class="n" style="left:787.2px;top:333px">50</span>
<span class="n" style="left:799.5px;top:333px">67</span>
<span class="n" style="left:836.5px;top:333px">55</span>
<span class="n" style="left:281.5px;top:348px">41</span>
<span class="n" style="left:293.8px;top:348px">43</span>
<span class="n" style="left:306.2px;top:348px">40</span>
<span class="n" style="left:318.5px;top:348px">31</span>
<span class="n" style="left:330.8px;top:348px">40</span>
<span class="n" style="left:343.2px;top:348px">80</span>
<span class="n" style="left:355.5px;top:348px">50</span>
<span class="n" style="left:454.2px;top:348px">53</span>
<span class="n" style="left:466.5px;top:348px">54</span>
<span class="n" style="left:478.8px;top:348px">60</span>
<span class="n" style="left:491.2px;top:348px">74</span>
<span class="n" style="left:503.5px;top:348px">55</span>
<span class="n" style="left:515.8px;top:348px">73</span>
<span class="n" style="left:528.2px;top:348px">68</span>
<span class="n" style="left:540.5px;top:348px">69</span>
<span class="n" style="left:552.8px;top:348px">64</span>
<span class="n" style="left:565.2px;top:348px">86</span>
<span class="n" style="left:577.5px;top:348px">70</span>
<span class="n" style="left:589.8px;top:348px">65</span>
<span class="n" style="left:602.2px;top:348px">25</span>
<span class="n" style="left:663.8px;top:348px">32</span>
<span class="n" style="left:676.2px;top:348px">35</span>
<span class="n" style="left:688.5px;top:348px">32</span>
<span class="n" style="left:713.2px;top:348px">35</span>
<span class="n" style="left:725.5px;top:348px">58</span>
<span class="n" style="left:737.8px;top:348px">66</span>
<span class="n" style="left:750.2px;top:348px">28</span>
<span class="n" style="left:774.8px;top:348px">71</span>
<span class="n" style="left:787.2px;top:348px">58</span>
<span class="n" style="left:799.5px;top:348px">60</span>
<span class="n" style="left:811.8px;top:348px">63</span>
<span class="n" style="left:824.2px;top:348px">73</span>
<span class="n" style="left:861.2px;top:348px">55</span>
<span class="n" style="left:873.5px;top:348px">53</span>
<span class="n" style="left:898.2px;top:348px">59</span>
<span class="n" style="left:910.5px;top:348px">46</span>
<span class="n" style="left:96.5px;top:362px">31</span>
<span class="n" style="left:293.8px;top:362px">71</span>
<span class="n" style="left:306.2px;top:362px">69</span>
<span class="n" style="left:330.8px;top:362px">53</span>
<span class="n" style="left:343.2px;top:362px">69</span>
<span class="n" style="left:355.5px;top:362px">54</span>
<span class="n" style="left:466.5px;top:362px">51</span>
<span class="n" style="left:478.8px;top:362px">67</span>
<span class="n" style="left:503.5px;top:362px">44</span>
<span class="n" style="left:515.8px;top:362px">33</span>
<span class="n" style="left:528.2px;top:362px">68</span>
<span class="n" style="left:540.5px;top:362px">59</span>
<span class="n" style="left:552.8px;top:362px">61</span>
<span class="n" style="left:565.2px;top:362px">74</span>
<span class="n" style="left:577.5px;top:362px">56</span>
<span class="n" style="left:589.8px;top:362px">54</span>
<span class="n" style="left:602.2px;top:362px">41</span>
<span class="n" style="left:663.8px;top:362px">34</span>
<span class="n" style="left:725.5px;top:362px">59</span>
<span class="n" style="left:737.8px;top:362px">87</span>
<span class="n" style="left:750.2px;top:362px">43</span>
<span class="n" style="left:762.5px;top:362px">87</span>
<span class="n" style="left:774.8px;top:362px">52</span>
<span class="n" style="left:787.2px;top:362px">55</span>
<span class="n" style="left:799.5px;top:362px">65</span>
<span class="n" style="left:910.5px;top:362px">32</span>
<span class="n" style="left:281.5px;top:376px">35</span>
<span class="n" style="left:293.8px;top:376px">68</span>
<span class="n" style="left:306.2px;top:376px">37</span>
<span class="n" style="left:318.5px;top:376px">54</span>
<span class="n" style="left:330.8px;top:376px">35</span>
<span class="n" style="left:343.2px;top:376px">47</span>
<span class="n" style="left:355.5px;top:376px">38</span>
<span class="n" style="left:367.8px;top:376px">43</span>
<span class="n" style="left:380.2px;top:376px">24</span>
<span class="n" style="left:392.5px;top:376px">28</span>
<span class="n" style="left:404.8px;top:376px">25</span>
<span class="n" style="left:503.5px;top:376px">19</span>
<span class="n" style="left:515.8px;top:376px">7</span>
<span class="n" style="left:528.2px;top:376px">7</span>
<span class="n" style="left:540.5px;top:376px">22</span>
<span class="n" style="left:552.8px;top:376px">47</span>
<span class="n" style="left:565.2px;top:376px">65</span>
<span class="n" style="left:577.5px;top:376px">56</span>
<span class="n" style="left:589.8px;top:376px">41</span>
<span class="n" style="left:626.8px;top:376px">52</span>
<span class="n" style="left:737.8px;top:376px">51</span>
<span class="n" style="left:750.2px;top:376px">76</span>
<span class="n" style="left:762.5px;top:376px">48</span>
<span class="n" style="left:774.8px;top:376px">60</span>
<span class="n" style="left:787.2px;top:376px">66</span>
<span class="n" style="left:799.5px;top:376px">75</span>
<span class="n" style="left:811.8px;top:376px">78</span>
<span class="n" style="left:824.2px;top:376px">75</span>
<span class="n" style="left:836.5px;top:376px">64</span>
<span class="n" style="left:848.8px;top:376px">47</span>
<span class="n" style="left:861.2px;top:376px">62</span>
<span class="n" style="left:922.8px;top:376px">24</span>
<span class="n" style="left:59.5px;top:390px">36</span>
<span class="n" style="left:96.5px;top:390px">29</span>
<span class="n" style="left:145.8px;top:390px">8</span>
<span class="n" style="left:281.5px;top:390px">35</span>
<span class="n" style="left:293.8px;top:390px">26</span>
<span class="n" style="left:306.2px;top:390px">24</span>
<span class="n" style="left:318.5px;top:390px">23</span>
<span class="n" style="left:330.8px;top:390px">26</span>
<span class="n" style="left:343.2px;top:390px">16</span>
<span class="n" style="left:355.5px;top:390px">8</span>
<span class="n" style="left:367.8px;top:390px">15</span>
<span class="n" style="left:380.2px;top:390px">14</span>
<span class="n" style="left:392.5px;top:390px">42</span>
<span class="n" style="left:404.8px;top:390px">39</span>
<span class="n" style="left:454.2px;top:390px">1</span>
<span class="n" style="left:515.8px;top:390px">8</span>
<span class="n" style="left:528.2px;top:390px">10</span>
<span class="n" style="left:540.5px;top:390px">14</span>
<span class="n" style="left:552.8px;top:390px">10</span>
<span class="n" style="left:565.2px;top:390px">19</span>
<span class="n" style="left:577.5px;top:390px">40</span>
<span class="n" style="left:663.8px;top:390px">52</span>
<span class="n" style="left:750.2px;top:390px">39</span>
<span class="n" style="left:762.5px;top:390px">44</span>
<span class="n" style="left:774.8px;top:390px">53</span>
<span class="n" style="left:787.2px;top:390px">26</span>
<span class="n" style="left:799.5px;top:390px">54</span>
<span class="n" style="left:811.8px;top:390px">37</span>
<span class="n" style="left:836.5px;top:390px">73</span>
<span class="n" style="left:848.8px;top:390px">56</span>
<span class="n" style="left:873.5px;top:390px">50</span>
<span class="n" style="left:885.8px;top:390px">62</span>
<span class="n" style="left:922.8px;top:390px">54</span>
<span class="n" style="left:47.2px;top:405px">26</span>
<span class="n" style="left:59.5px;top:405px">47</span>
<span class="n" style="left:71.8px;top:405px">14</span>
<span class="n" style="left:84.2px;top:405px">19</span>
<span class="n" style="left:121.2px;top:405px">8</span>
<span class="n" style="left:293.8px;top:405px">11</span>
<span class="n" style="left:306.2px;top:405px">4</span>
<span class="n" style="left:318.5px;top:405px">11</span>
<span class="n" style="left:330.8px;top:405px">18</span>
<span class="n" style="left:343.2px;top:405px">15</span>
<span class="n" style="left:355.5px;top:405px">11</span>
<span class="n" style="left:367.8px;top:405px">21</span>
<span class="n" style="left:380.2px;top:405px">8</span>
<span class="n" style="left:392.5px;top:405px">35</span>
<span class="n" style="left:515.8px;top:405px">4</span>
<span class="n" style="left:528.2px;top:405px">5</span>
<span class="n" style="left:540.5px;top:405px">6</span>
<span class="n" style="left:552.8px;top:405px">11</span>
<span class="n" style="left:565.2px;top:405px">29</span>
<span class="n" style="left:577.5px;top:405px">11</span>
<span class="n" style="left:589.8px;top:405px">50</span>
<span class="n" style="left:602.2px;top:405px">24</span>
<span class="n" style="left:614.5px;top:405px">20</span>
<span class="n" style="left:626.8px;top:405px">20</span>
<span class="n" style="left:725.5px;top:405px">33</span>
<span class="n" style="left:787.2px;top:405px">41</span>
<span class="n" style="left:811.8px;top:405px">12</span>
<span class="n" style="left:824.2px;top:405px">16</span>
<span class="n" style="left:836.5px;top:405px">15</span>
<span class="n" style="left:861.2px;top:405px">45</span>
<span class="n" style="left:885.8px;top:405px">52</span>
<span class="n" style="left:898.2px;top:405px">20</span>
<span class="n" style="left:922.8px;top:405px">33</span>
<span class="n" style="left:47.2px;top:419px">27</span>
<span class="n" style="left:59.5px;top:419px">24</span>
<span class="n" style="left:71.8px;top:419px">19</span>
<span class="n" style="left:84.2px;top:419px">36</span>
<span class="n" style="left:96.5px;top:419px">26</span>
<span class="n" style="left:108.8px;top:419px">32</span>
<span class="n" style="left:121.2px;top:419px">24</span>
<span class="n" style="left:133.5px;top:419px">20</span>
<span class="n" style="left:293.8px;top:419px">6</span>
<span class="n" style="left:306.2px;top:419px">8</span>
<span class="n" style="left:318.5px;top:419px">12</span>
<span class="n" style="left:330.8px;top:419px">20</span>
<span class="n" style="left:343.2px;top:419px">18</span>
<span class="n" style="left:355.5px;top:419px">13</span>
<span class="n" style="left:367.8px;top:419px">21</span>
<span class="n" style="left:380.2px;top:419px">15</span>
<span class="n" style="left:392.5px;top:419px">41</span>
<span class="n" style="left:466.5px;top:419px">3</span>
<span class="n" style="left:515.8px;top:419px">3</span>
<span class="n" style="left:528.2px;top:419px">5</span>
<span class="n" style="left:540.5px;top:419px">10</span>
<span class="n" style="left:552.8px;top:419px">13</span>
<span class="n" style="left:565.2px;top:419px">23</span>
<span class="n" style="left:577.5px;top:419px">42</span>
<span class="n" style="left:589.8px;top:419px">33</span>
<span class="n" style="left:602.2px;top:419px">28</span>
<span class="n" style="left:614.5px;top:419px">18</span>
<span class="n" style="left:626.8px;top:419px">14</span>
<span class="n" style="left:639.2px;top:419px">14</span>
<span class="n" style="left:787.2px;top:419px">25</span>
<span class="n" style="left:799.5px;top:419px">8</span>
<span class="n" style="left:811.8px;top:419px">18</span>
<span class="n" style="left:824.2px;top:419px">21</span>
<span class="n" style="left:836.5px;top:419px">12</span>
<span class="n" style="left:848.8px;top:419px">36</span>
<span class="n" style="left:898.2px;top:419px">27</span>
<span class="n" style="left:922.8px;top:419px">31</span>
<span class="n" style="left:47.2px;top:433px">31</span>
<span class="n" style="left:96.5px;top:433px">30</span>
<span class="n" style="left:121.2px;top:433px">31</span>
<span class="n" style="left:145.8px;top:433px">30</span>
<span class="n" style="left:158.2px;top:433px">30</span>
<span class="n" style="left:306.2px;top:433px">4</span>
<span class="n" style="left:318.5px;top:433px">28</span>
<span class="n" style="left:330.8px;top:433px">20</span>
<span class="n" style="left:343.2px;top:433px">34</span>
<span class="n" style="left:355.5px;top:433px">23</span>
<span class="n" style="left:367.8px;top:433px">21</span>
<span class="n" style="left:380.2px;top:433px">26</span>
<span class="n" style="left:417.2px;top:433px">74</span>
<span class="n" style="left:515.8px;top:433px">3</span>
<span class="n" style="left:528.2px;top:433px">7</span>
<span class="n" style="left:540.5px;top:433px">10</span>
<span class="n" style="left:552.8px;top:433px">10</span>
<span class="n" style="left:565.2px;top:433px">10</span>
<span class="n" style="left:577.5px;top:433px">12</span>
<span class="n" style="left:589.8px;top:433px">18</span>
<span class="n" style="left:602.2px;top:433px">19</span>
<span class="n" style="left:626.8px;top:433px">12</span>
<span class="n" style="left:762.5px;top:433px">31</span>
<span class="n" style="left:774.8px;top:433px">35</span>
<span class="n" style="left:811.8px;top:433px">28</span>
<span class="n" style="left:824.2px;top:433px">16</span>
<span class="n" style="left:836.5px;top:433px">18</span>
<span class="n" style="left:848.8px;top:433px">19</span>
<span class="n" style="left:861.2px;top:433px">25</span>
<span class="n" style="left:885.8px;top:433px">19</span>
<span class="n" style="left:898.2px;top:433px">22</span>
<span class="n" style="left:47.2px;top:447px">32</span>
<span class="n" style="left:133.5px;top:447px">33</span>
<span class="n" style="left:219.8px;top:447px">19</span>
<span class="n" style="left:306.2px;top:447px">14</span>
<span class="n" style="left:318.5px;top:447px">16</span>
<span class="n" style="left:330.8px;top:447px">23</span>
<span class="n" style="left:343.2px;top:447px">30</span>
<span class="n" style="left:355.5px;top:447px">29</span>
<span class="n" style="left:367.8px;top:447px">24</span>
<span class="n" style="left:528.2px;top:447px">9</span>
<span class="n" style="left:540.5px;top:447px">14</span>
<span class="n" style="left:552.8px;top:447px">14</span>
<span class="n" style="left:565.2px;top:447px">12</span>
<span class="n" style="left:602.2px;top:447px">19</span>
<span class="n" style="left:762.5px;top:447px">27</span>
<span class="n" style="left:774.8px;top:447px">26</span>
<span class="n" style="left:787.2px;top:447px">20</span>
<span class="n" style="left:799.5px;top:447px">30</span>
<span class="n" style="left:811.8px;top:447px">33</span>
<span class="n" style="left:824.2px;top:447px">14</span>
<span class="n" style="left:836.5px;top:447px">23</span>
<span class="n" style="left:848.8px;top:447px">17</span>
<span class="n" style="left:861.2px;top:447px">25</span>
<span class="n" style="left:898.2px;top:447px">25</span>
<span class="n" style="left:293.8px;top:462px">9</span>
<span class="n" style="left:306.2px;top:462px">35</span>
<span class="n" style="left:318.5px;top:462px">31</span>
<span class="n" style="left:330.8px;top:462px">27</span>
<span class="n" style="left:343.2px;top:462px">32</span>
<span class="n" style="left:355.5px;top:462px">32</span>
<span class="n" style="left:528.2px;top:462px">9</span>
<span class="n" style="left:540.5px;top:462px">13</span>
<span class="n" style="left:552.8px;top:462px">16</span>
<span class="n" style="left:565.2px;top:462px">13</span>
<span class="n" style="left:774.8px;top:462px">25</span>
<span class="n" style="left:787.2px;top:462px">28</span>
<span class="n" style="left:799.5px;top:462px">29</span>
<span class="n" style="left:811.8px;top:462px">32</span>
<span class="n" style="left:824.2px;top:462px">33</span>
<span class="n" style="left:836.5px;top:462px">26</span>
<span class="n" style="left:848.8px;top:462px">26</span>
<span class="n" style="left:861.2px;top:462px">27</span>
<span class="n" style="left:910.5px;top:462px">46</span>
<span class="n" style="left:306.2px;top:476px">18</span>
<span class="n" style="left:318.5px;top:476px">48</span>
<span class="n" style="left:330.8px;top:476px">26</span>
<span class="n" style="left:343.2px;top:476px">28</span>
<span class="n" style="left:676.2px;top:476px">22</span>
<span class="n" style="left:824.2px;top:476px">33</span>
<span class="n" style="left:836.5px;top:476px">28</span>
<span class="n" style="left:848.8px;top:476px">30</span>
<span class="n" style="left:861.2px;top:476px">17</span>
<span class="n" style="left:910.5px;top:476px">23</span>
<span class="n" style="left:922.8px;top:476px">31</span>
<span class="n" style="left:47.2px;top:490px">25</span>
<span class="n" style="left:306.2px;top:490px">29</span>
<span class="n" style="left:318.5px;top:490px">46</span>
<span class="n" style="left:330.8px;top:490px">32</span>
<span class="n" style="left:466.5px;top:490px">30</span>
<span class="n" style="left:848.8px;top:490px">34</span>
<span class="n" style="left:898.2px;top:490px">38</span>
<span class="n" style="left:910.5px;top:490px">34</span>
<span class="n" style="left:922.8px;top:490px">37</span>
<span class="n" style="left:306.2px;top:504px">29</span>
<span class="n" style="left:318.5px;top:504px">46</span>
<span class="n" style="left:577.5px;top:504px">31</span>
<span class="n" style="left:614.5px;top:504px">27</span>
<span class="n" style="left:663.8px;top:504px">43</span>
<span class="n" style="left:898.2px;top:504px">49</span>
<span class="n" style="left:910.5px;top:504px">62</span>
<span class="n" style="left:300.0px;top:519px">42</span>
<span class="n" style="left:324.7px;top:519px">40</span>
<span class="n" style="left:349.3px;top:519px">44</span>
<span class="n" style="left:867.3px;top:519px">22</span>
<span class="n" style="left:892.0px;top:519px">27</span>
<span class="n" style="left:324.7px;top:547px">15</span>
<span class="n" style="left:349.3px;top:547px">35</span>
<span class="n" style="left:374.0px;top:547px">24</span>
<span class="n" style="left:324.7px;top:561px">33</span>
<span class="n" style="left:571.3px;top:561px">43</span>
<span class="n" style="left:596.0px;top:561px">40</span>
<span class="n" style="left:645.3px;top:561px">47</span>
<span class="n" style="left:670.0px;top:561px">39</span>
<span class="n" style="left:719.3px;top:561px">38</span>
<span class="n" style="left:768.7px;top:561px">35</span>
<span class="n" style="left:842.7px;top:561px">31</span>
<span class="n" style="left:867.3px;top:561px">21</span>
<span class="n" style="left:164.3px;top:575px">31</span>
<span class="n" style="left:460.3px;top:575px">32</span>
<span class="n" style="left:509.7px;top:575px">47</span>
<span class="n" style="left:559.0px;top:575px">45</span>
<span class="n" style="left:608.3px;top:575px">31</span>
<span class="n" style="left:411.0px;top:590px">17</span>
<span class="n" style="left:756.3px;top:590px">2</span>
<span class="n" style="left:904.3px;top:590px">17</span>
<span class="n" style="left:238.6px;top:134px">55</span>
<span class="n" style="left:337.3px;top:134px">42</span>
<span class="n" style="left:534.6px;top:134px">41</span>
<span class="n" style="left:633.3px;top:134px">49</span>
<span class="n" style="left:485.3px;top:618px">1</span>
<span class="n" style="left:975.0px;top:134px">46</span>
<span class="n" style="left:975.0px;top:148px">46</span>
<span class="n" style="left:975.0px;top:163px">47</span>
<span class="n" style="left:975.0px;top:177px">40</span>
<span class="n" style="left:975.0px;top:191px">45</span>
<span class="n" style="left:975.0px;top:205px">41</span>
<span class="n" style="left:975.0px;top:219px">41</span>
<span class="n" style="left:975.0px;top:234px">39</span>
<span class="n" style="left:975.0px;top:248px">34</span>
<span class="n" style="left:975.0px;top:262px">30</span>
<span class="n" style="left:975.0px;top:276px">29</span>
<span class="n" style="left:975.0px;top:291px">27</span>
<span class="n" style="left:975.0px;top:305px">34</span>
<span class="n" style="left:975.0px;top:319px">43</span>
<span class="n" style="left:975.0px;top:333px">59</span>
<span class="n" style="left:975.0px;top:348px">57</span>
<span class="n" style="left:975.0px;top:362px">61</span>
<span class="n" style="left:975.0px;top:376px">45</span>
<span class="n" style="left:975.0px;top:390px">25</span>
<span class="n" style="left:975.0px;top:405px">14</span>
<span class="n" style="left:975.0px;top:419px">17</span>
<span class="n" style="left:975.0px;top:433px">20</span>
<span class="n" style="left:975.0px;top:447px">21</span>
<span class="n" style="left:975.0px;top:462px">27</span>
<span class="n" style="left:975.0px;top:476px">31</span>
<span class="n" style="left:975.0px;top:490px">37</span>
<span class="n" style="left:975.0px;top:504px">38</span>
<span class="n" style="left:975.0px;top:519px">42</span>
<span class="n" style="left:975.0px;top:547px">27</span>
<span class="n" style="left:975.0px;top:561px">36</span>
<span class="n" style="left:975.0px;top:575px">35</span>
<span class="n" style="left:975.0px;top:590px">3</span>
<span class="n" style="left:975.0px;top:618px">1</span></div>
</body></html>
